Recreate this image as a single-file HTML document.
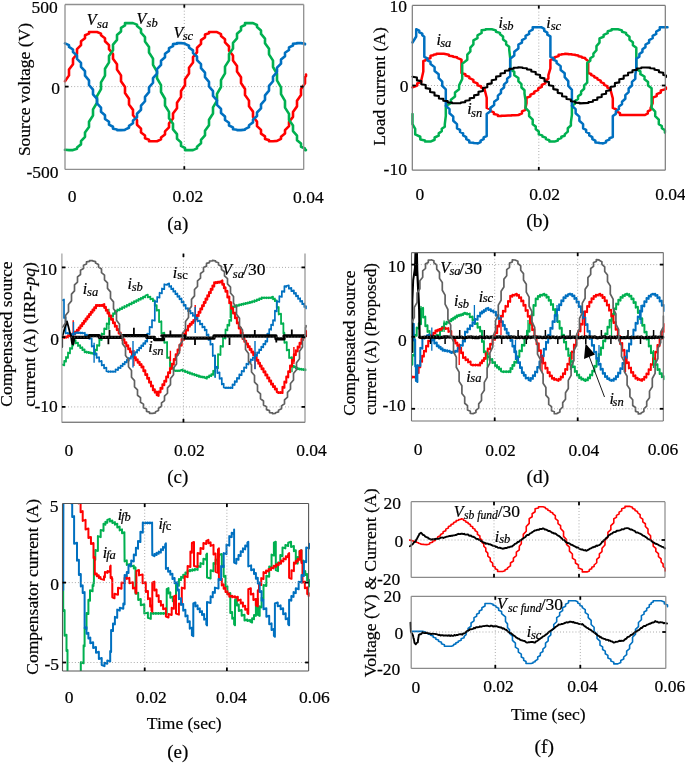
<!DOCTYPE html>
<html><head><meta charset="utf-8"><style>html,body{margin:0;padding:0;background:#fff;}svg{display:block;will-change:transform;}</style></head>
<body><svg width="685" height="763" viewBox="0 0 685 763" font-family="Liberation Serif, serif">
<rect width="685" height="763" fill="#fff"/>
<defs><clipPath id="clipC"><rect x="62" y="253.6" width="246" height="168.8"/></clipPath><clipPath id="clipD"><rect x="411.5" y="252.6" width="253" height="168.4"/></clipPath><clipPath id="clipE"><rect x="62.5" y="503.5" width="248" height="167.5"/></clipPath><clipPath id="clipF1"><rect x="409" y="501.7" width="259" height="75.7"/></clipPath><clipPath id="clipF2"><rect x="409" y="596.3" width="260" height="72.1"/></clipPath></defs>
<line x1="65" y1="86.6" x2="303.7" y2="86.6" stroke="#8c8c8c" stroke-width="0.8" stroke-dasharray="0.9 2.2"/>
<line x1="184.3" y1="4.5" x2="184.3" y2="169.4" stroke="#8c8c8c" stroke-width="0.8" stroke-dasharray="0.9 2.2"/>
<g>
<path d="M65 81.17L69 75.38L69 69.59L73 64.17L73 58.76L77 53.96L77 49.16L81 45.19L81 41.22L85 38.25L85 35.28L89 33.64L89 32L93 32L97 32L101 33.64L101 35.28L105 38.25L105 41.22L109 45.19L109 49.16L113 53.96L113 58.76L117 64.17L117 69.59L121 75.38L121 81.17L125 87.08L125 92.99L129 98.76L129 104.53L133 109.9L133 115.27L137 120.01L137 124.75L141 128.65L141 132.55L145 135.43L145 138.31L149 139.75L149 141.2L153 141.2L157 141.2L161 139.36L161 137.52L165 134.47L165 131.41L169 127.36L169 123.32L173 118.46L173 113.6L177 108.15L177 102.69L181 96.88L181 91.07L185 85.16L185 79.26L189 73.51L189 67.76L193 62.43L193 57.1L197 52.43L197 47.75L201 43.93L201 40.11L205 37.31L205 34.52L209 33.26L209 32L213 32L217 32.04L221 34.07L221 36.09L225 39.24L225 42.38L229 46.5L229 50.62L233 55.53L233 60.45L237 65.94L237 71.43L241 77.26L241 83.09L245 88.99L245 94.9L249 100.62L249 106.34L253 111.63L253 116.91L257 121.53L257 126.14L261 129.89L261 133.63L265 136.33L265 139.04L269 140.12L269 141.2L273 141.2L277 140.92L281 138.8L281 136.68L285 133.45L285 130.22L289 126.03L289 121.84L293 116.87L293 111.9L297 106.37L297 100.84L301 95L301 89.15L305 83.25L305 77.35L306 75.9L306 74.45" fill="none" stroke="#ff0000" stroke-width="2.6" stroke-linejoin="round" stroke-linecap="round"/>
<path d="M65 149.82L69 150.1L73 150.1L77 148.81L77 147.52L81 144.36L81 141.2L85 136.83L85 132.47L89 127.09L89 121.71L93 115.55L93 109.4L97 102.74L97 96.08L101 89.21L101 82.34L105 75.57L105 68.79L109 62.41L109 56.03L113 50.33L113 44.62L117 39.84L117 35.06L121 31.42L121 27.78L125 25.44L125 23.1L129 23.1L133 23.1L137 24.6L137 26.1L141 29.36L141 32.62L145 37.08L145 41.54L149 46.99L149 52.44L153 58.65L153 64.86L157 71.54L157 78.23L161 85.1L161 91.97L165 98.73L165 105.48L169 111.82L169 118.15L173 123.79L173 129.43L177 134.12L177 138.82L181 142.36L181 145.9L185 148L185 150.1L189 150.1L193 150.1L197 148.39L197 146.67L201 143.3L201 139.94L205 135.39L205 130.84L209 125.32L209 119.8L213 113.54L213 107.29L217 100.57L217 93.86L221 86.99L221 80.11L225 73.38L225 66.65L229 60.36L229 54.07L233 48.5L233 42.93L237 38.32L237 33.72L241 30.28L241 26.84L245 24.97L245 23.1L249 23.1L253 23.1L257 25.04L257 26.98L261 30.45L261 33.92L265 38.55L265 43.19L269 48.78L269 54.37L273 60.67L273 66.98L277 73.72L277 80.45L281 87.33L281 94.2L285 100.91L285 107.61L289 113.85L289 120.09L293 125.6L293 131.1L297 135.62L297 140.13L301 143.47L301 146.81L305 148.45L305 150.1L306 150.1" fill="none" stroke="#00b050" stroke-width="2.6" stroke-linejoin="round" stroke-linecap="round"/>
<path d="M65 43.43L69 45.16L69 46.89L73 49.5L73 52.11L77 55.48L77 58.85L81 62.83L81 66.82L85 71.24L85 75.66L89 80.32L89 84.98L93 89.68L93 94.37L97 98.9L97 103.43L101 107.58L101 111.73L105 115.33L105 118.93L109 121.82L109 124.7L113 126.74L113 128.79L117 129.44L117 130.1L121 130.1L125 129.83L125 129.56L129 127.75L129 125.95L133 123.27L133 120.6L137 117.17L137 113.74L141 109.72L141 105.69L145 101.25L145 96.8L149 92.13L149 87.45L153 82.76L153 78.07L157 73.57L157 69.07L161 64.95L161 60.84L165 57.29L165 53.74L169 50.92L169 48.1L173 46.13L173 44.16L177 43.63L177 43.1L181 43.1L185 43.48L185 43.87L189 45.75L189 47.63L193 50.37L193 53.11L197 56.59L197 60.07L201 64.14L201 68.2L205 72.68L205 77.15L209 81.83L209 86.51L213 91.2L213 95.88L217 100.36L217 104.84L221 108.91L221 112.99L225 116.48L225 119.97L229 122.73L229 125.49L233 127.38L233 129.28L237 129.69L237 130.1L241 130.1L245 129.6L245 129.1L249 127.14L249 125.19L253 122.38L253 119.58L257 116.04L257 112.51L261 108.4L261 104.3L265 99.8L265 95.3L269 90.61L269 85.92L273 81.25L273 76.57L277 72.12L277 67.67L281 63.63L281 59.6L285 56.16L285 52.72L289 50.03L289 47.34L293 45.52L293 43.69L297 43.4L297 43.1L301 43.1L305 43.73L305 44.35" fill="none" stroke="#0070c0" stroke-width="2.6" stroke-linejoin="round" stroke-linecap="round"/>
</g>
<line x1="65" y1="4.5" x2="303.7" y2="4.5" stroke="#8f8f8f" stroke-width="1.3"/>
<line x1="65" y1="169.4" x2="303.7" y2="169.4" stroke="#8f8f8f" stroke-width="1.3"/>
<line x1="65" y1="4.5" x2="65" y2="169.4" stroke="#8f8f8f" stroke-width="1.3"/>
<line x1="303.7" y1="4.5" x2="303.7" y2="169.4" stroke="#8f8f8f" stroke-width="1.3"/>
<line x1="184.3" y1="4.5" x2="184.3" y2="7.7" stroke="#000000" stroke-width="1.8"/>
<line x1="184.3" y1="166.2" x2="184.3" y2="169.4" stroke="#000000" stroke-width="1.8"/>
<line x1="65" y1="86.6" x2="68.5" y2="86.6" stroke="#000000" stroke-width="1.8"/>
<line x1="300.2" y1="86.6" x2="303.7" y2="86.6" stroke="#000000" stroke-width="1.8"/>
<line x1="412.3" y1="85.5" x2="665.3" y2="85.5" stroke="#8c8c8c" stroke-width="0.8" stroke-dasharray="0.9 2.2"/>
<line x1="538.8" y1="5.4" x2="538.8" y2="170.2" stroke="#8c8c8c" stroke-width="0.8" stroke-dasharray="0.9 2.2"/>
<path d="M412.5 87.4L417.2 85.6L417.2 83.4L421.3 82L421.3 80.3L423.3 71.57L423.3 60.9L425.4 60.45L425.4 59.9L430.5 58.05L430.5 55.8L433.55 55.33L433.55 54.75L436.6 54.28L436.6 53.7L443.8 53.7L448.9 54.65L448.9 55.8L452.95 56.25L452.95 56.8L457 57.25L457 57.8L461.5 59.64L461.5 61.9L461.5 73.1L465.4 74.25L465.4 75.65L469.3 76.8L469.3 78.2L473.4 79.82L473.4 81.8L477.5 83.42L477.5 85.4L481.05 86.32L481.05 87.45L484.6 88.37L484.6 89.5L486.7 97.78L486.7 107.9L490.25 109.27L490.25 110.95L493.8 112.32L493.8 114L497.9 114.9L497.9 116L501.32 115.92L501.32 115.83L504.73 115.76L504.73 115.67L508.15 115.59L508.15 115.5L511.57 115.42L511.57 115.33L514.98 115.26L514.98 115.17L518.4 115.09L518.4 115L521.95 113.4L521.95 111.45L525.5 109.85L525.5 107.9L526.5 103.31L526.5 97.7L530.4 96.32L530.4 94.63L534.3 93.25L534.3 91.57L538.2 90.19L538.2 88.5L541.75 86.88L541.75 84.9L545.3 83.28L545.3 81.3L548.4 78.56L548.4 75.2L550.4 68.31L550.4 59.9L554.5 58.73L554.5 57.3L558.6 56.13L558.6 54.7L561.8 54.48L561.8 54.2L565 53.98L565 53.7L568.33 53.9L568.33 54.13L571.67 54.33L571.67 54.57L575 54.76L575 55L578.4 55.57L578.4 56.27L581.8 56.84L581.8 57.53L585.2 58.1L585.2 58.8L588.2 61.09L588.2 63.9L588.2 73.1L591.27 74.03L591.27 75.17L594.33 76.1L594.33 77.23L597.4 78.16L597.4 79.3L600.73 80.56L600.73 82.1L604.05 83.36L604.05 84.9L607.38 86.16L607.38 87.7L610.7 88.96L610.7 90.5L612.8 98.33L612.8 107.9L616.4 109.5L616.4 111.45L620 113.05L620 115L645 115L647.8 113.4L647.8 111.45L650.6 109.85L650.6 107.9L652.6 103.31L652.6 97.7L656.7 96.08L656.7 94.1L660.8 92.48L660.8 90.5L665.9 89.11L665.9 87.4" fill="none" stroke="#ff0000" stroke-width="2.5" stroke-linejoin="round" stroke-linecap="round"/>
<path d="M412.5 114L412.5 124.2L415.2 128.79L415.2 134.4L420.3 136.74L420.3 139.6L425 140.5L425 141.6L430.5 141.6L434.6 139.75L434.6 137.5L438.7 135.66L438.7 133.4L441.75 131.33L441.75 128.8L444.8 126.73L444.8 124.2L445.8 115.92L445.8 105.8L450.9 103.06L450.9 99.7L455 96.48L455 92.55L459.1 89.33L459.1 85.4L462.2 78.97L462.2 71.1L462.2 63.9L467.3 59.76L467.3 54.7L470.35 51.48L470.35 47.55L473.4 44.33L473.4 40.4L477.5 38.1L477.5 35.3L481.6 33L481.6 30.2L485.7 29.75L485.7 29.2L491.8 29.2L495.9 30.35L495.9 31.75L500 32.9L500 34.3L503.07 36.59L503.07 39.4L506.13 41.7L506.13 44.5L509.2 46.8L509.2 49.6L510.2 58.38L510.2 69.1L514.3 71.84L514.3 75.2L518.4 77.94L518.4 81.3L521.45 84.07L521.45 87.45L524.5 90.22L524.5 93.6L525.5 100.03L525.5 107.9L529.1 111.57L529.1 116.05L532.7 119.72L532.7 124.2L535.75 126.5L535.75 129.3L538.8 131.59L538.8 134.4L542.3 135.34L542.3 136.5L545.85 137.65L545.85 139.05L549.4 140.2L549.4 141.6L554.5 141.6L557.9 140.52L557.9 139.2L561.3 138.12L561.3 136.8L564.7 135.72L564.7 134.4L567.8 131.66L567.8 128.3L570.9 125.56L570.9 122.2L571.9 114.82L571.9 105.8L574.97 103.66L574.97 101.03L578.03 98.89L578.03 96.27L581.1 94.12L581.1 91.5L584.15 88.75L584.15 85.4L587.2 82.66L587.2 79.3L587.2 62.9L590.3 60.83L590.3 58.3L593.4 56.23L593.4 53.7L596.45 50.26L596.45 46.05L599.5 42.61L599.5 38.4L603.6 36.78L603.6 34.8L607.7 33.18L607.7 31.2L611.7 30.3L611.7 29.2L617.9 29.2L622 30.35L622 31.75L626.1 32.9L626.1 34.3L629.5 36.76L629.5 39.77L632.9 42.23L632.9 45.23L636.3 47.69L636.3 50.7L636.3 69.1L640.4 71.39L640.4 74.2L644.5 76.49L644.5 79.3L648.05 82.05L648.05 85.4L651.6 88.15L651.6 91.5L651.6 107.9L655.2 111.57L655.2 116.05L658.8 119.72L658.8 124.2L661.85 126.05L661.85 128.3L664.9 130.15L664.9 132.4" fill="none" stroke="#00b050" stroke-width="2.5" stroke-linejoin="round" stroke-linecap="round"/>
<path d="M412.5 42.5L416.2 36.52L416.2 29.2L419.25 30.57L419.25 32.25L422.3 33.62L422.3 35.3L424.3 36.7L424.3 38.4L424.3 56.8L427.4 58.4L427.4 60.35L430.5 61.95L430.5 63.9L434.6 67.12L434.6 71.05L438.7 74.27L438.7 78.2L442.25 81.67L442.25 85.9L445.8 89.36L445.8 93.6L445.8 105.8L449.53 109.17L449.53 113.3L453.27 116.67L453.27 120.8L457 124.18L457 128.3L460.07 129.91L460.07 131.88L463.15 133.48L463.15 135.45L466.23 137.06L466.23 139.03L469.3 140.63L469.3 142.6L473.4 142.82L473.4 143.1L477.5 143.32L477.5 143.6L480.57 142.22L480.57 140.53L483.63 139.15L483.63 137.47L486.7 136.09L486.7 134.4L486.7 114L490.43 111.24L490.43 107.87L494.17 105.11L494.17 101.73L497.9 98.97L497.9 95.6L500.97 93.07L500.97 89.97L504.05 87.44L504.05 84.35L507.12 81.82L507.12 78.72L510.2 76.19L510.2 73.1L510.2 58.8L514.3 55.58L514.3 51.65L518.4 48.43L518.4 44.5L521.98 42.55L521.98 40.17L525.55 38.23L525.55 35.85L529.12 33.9L529.12 31.52L532.7 29.58L532.7 27.2L541.2 27.2L544.27 28.88L544.27 30.93L547.33 32.61L547.33 34.67L550.4 36.35L550.4 38.4L550.4 56.8L553.5 58.17L553.5 59.85L556.6 61.22L556.6 62.9L560.65 66.12L560.65 70.05L564.7 73.27L564.7 77.2L568.3 81.12L568.3 85.9L571.9 89.81L571.9 94.6L571.9 105.8L575.63 109.17L575.63 113.3L579.37 116.67L579.37 120.8L583.1 124.18L583.1 128.3L586.17 129.91L586.17 131.88L589.25 133.48L589.25 135.45L592.33 137.06L592.33 139.03L595.4 140.63L595.4 142.6L599 142.82L599 143.1L602.6 143.32L602.6 143.6L606 142.38L606 140.9L609.4 139.69L609.4 138.2L612.8 136.98L612.8 135.5L612.8 116L615.87 113.86L615.87 111.23L618.93 109.09L618.93 106.47L622 104.32L622 101.7L625.33 98.72L625.33 95.08L628.65 92.09L628.65 88.45L631.97 85.47L631.97 81.83L635.3 78.84L635.3 75.2L636.3 67.82L636.3 58.8L639.37 56.66L639.37 54.03L642.43 51.89L642.43 49.27L645.5 47.12L645.5 44.5L649.08 42.55L649.08 40.17L652.65 38.23L652.65 35.85L656.22 33.9L656.22 31.52L659.8 29.58L659.8 27.2L667.5 27.2" fill="none" stroke="#0070c0" stroke-width="2.5" stroke-linejoin="round" stroke-linecap="round"/>
<path d="M412.5 76.72L416.9 77.45L416.9 80.35L421.3 81.12L421.3 84.22L425.7 85L425.7 88.14L430.1 88.9L430.1 91.93L434.5 92.63L434.5 95.41L438.9 96.01L438.9 98.42L443.3 98.89L443.3 100.8L447.7 101.13L447.7 102.46L452.1 102.62L452.1 103.3L456.5 103.29L460.9 103.12L460.9 102.43L465.3 102.09L465.3 100.76L469.7 100.28L469.7 98.36L474.1 97.75L474.1 95.34L478.5 94.64L478.5 91.85L482.9 91.09L482.9 88.05L487.3 87.27L487.3 84.13L491.7 83.35L491.7 80.26L496.1 79.54L496.1 76.65L500.5 76.01L500.5 73.44L504.9 72.92L504.9 70.81L509.3 70.42L509.3 68.87L513.7 68.64L513.7 67.72L518.1 67.66L518.1 67.41L522.5 67.52L522.5 67.95L526.9 68.23L526.9 69.33L531.3 69.75L531.3 71.47L535.7 72.03L535.7 74.27L540.1 74.93L540.1 77.6L544.5 78.34L544.5 81.3L548.9 82.08L548.9 85.2L553.3 85.98L553.3 89.11L557.7 89.85L557.7 92.84L562.1 93.51L562.1 96.21L566.5 96.79L566.5 99.08L570.9 99.52L570.9 101.29L575.3 101.58L575.3 102.74L579.7 102.87L579.7 103.38L584.1 103.15L588.5 102.94L588.5 102.08L592.9 101.71L592.9 100.22L597.3 99.71L597.3 97.65L601.7 97.02L601.7 94.5L606.1 93.79L606.1 90.92L610.5 90.15L610.5 87.07L614.9 86.29L614.9 83.15L619.3 82.38L619.3 79.33L623.7 78.62L623.7 75.8L628.1 75.19L628.1 72.73L632.5 72.23L632.5 70.26L636.9 69.91L636.9 68.51L641.3 68.32L641.3 67.56L645.7 67.46L650.1 67.62L650.1 68.22L654.5 68.53L654.5 69.79L658.9 70.26L658.9 72.11L663.3 72.7L663.3 75.06L666 75.47L666 77.12" fill="none" stroke="#000000" stroke-width="2.1" stroke-linejoin="round" stroke-linecap="round"/>
<line x1="412.3" y1="5.4" x2="665.3" y2="5.4" stroke="#7a7a7a" stroke-width="1.2"/>
<line x1="412.3" y1="170.2" x2="665.3" y2="170.2" stroke="#7a7a7a" stroke-width="1.2"/>
<line x1="412.3" y1="5.4" x2="412.3" y2="170.2" stroke="#7a7a7a" stroke-width="1.2"/>
<line x1="665.3" y1="5.4" x2="665.3" y2="170.2" stroke="#7a7a7a" stroke-width="1.2"/>
<line x1="538.8" y1="5.4" x2="538.8" y2="8.6" stroke="#000000" stroke-width="1.8"/>
<line x1="538.8" y1="167" x2="538.8" y2="170.2" stroke="#000000" stroke-width="1.8"/>
<line x1="412.3" y1="85.5" x2="415.8" y2="85.5" stroke="#000000" stroke-width="1.8"/>
<line x1="661.8" y1="85.5" x2="665.3" y2="85.5" stroke="#000000" stroke-width="1.8"/>
<g clip-path="url(#clipC)">
<path d="M62.5 364.6L64.25 365.4L64.25 360.8L66 361.6L66 357L68 357.8L68 352.5L70 353.3L70 348L72.2 348.8L72.2 344.7L73.2 345.5L73.2 340.9L75.6 340.1L75.6 343.45L78 342.65L78 346L80.2 345.2L80.2 348.1L82.4 347.3L82.4 350.2L84.6 349.4L84.6 352.3L86.72 351.5L86.72 352.73L88.85 351.93L88.85 353.15L90.97 352.35L90.97 353.57L93.1 352.77L93.1 354L95.05 354.8L95.05 349.5L97 350.3L97 345L99.35 345.8L99.35 339.25L101.7 340.05L101.7 333.5L104.2 334.3L104.2 328.43L106.7 329.23L106.7 323.37L109.2 324.17L109.2 318.3L111.13 319.1L111.13 315.77L113.07 316.57L113.07 313.23L115 314.03L115 310.7L117.35 311.5L117.35 309.52L119.7 310.32L119.7 308.35L122.05 309.15L122.05 307.18L124.4 307.98L124.4 306L126.8 306.8L126.8 304.8L129.2 305.6L129.2 303.6L131.6 304.4L131.6 302.4L134 303.2L134 301.2L136.26 302L136.26 300.06L138.52 300.86L138.52 298.92L140.78 299.72L140.78 297.78L143.04 298.58L143.04 296.64L145.3 297.44L145.3 295.5L147.83 294.7L147.83 297.4L150.37 296.6L150.37 299.3L152.9 298.5L152.9 301.2L154.8 300.4L154.8 305.95L156.7 305.15L156.7 310.7L159.05 309.9L159.05 322.1L161.4 321.3L161.4 333.5L164.3 332.7L164.3 342.8L167.1 342L167.1 358L170 357.2L170 366.5L171.9 365.7L171.9 368.4L173.8 367.6L173.8 370.3L175.87 371.1L175.87 370.3L177.93 371.1L177.93 370.3L180 371.1L180 370.3L182.53 369.5L182.53 371.23L185.07 370.43L185.07 372.17L187.6 371.37L187.6 373.1L189.88 372.3L189.88 373.88L192.16 373.08L192.16 374.66L194.44 373.86L194.44 375.44L196.72 374.64L196.72 376.22L199 375.42L199 377L200.9 376.2L200.9 377.3L202.8 376.5L202.8 377.6L204.7 376.8L204.7 377.9L206.9 378.7L206.9 376.63L209.1 377.43L209.1 375.37L211.3 376.17L211.3 374.1L213.2 374.9L213.2 370.75L215.1 371.55L215.1 367.4L218 368.2L218 354.2L220.5 355L220.5 345.97L223 346.77L223 337.73L225.5 338.53L225.5 329.5L227.4 330.3L227.4 324.75L229.3 325.55L229.3 320L231.2 320.8L231.2 306.9L233.1 307.7L233.1 306.27L235 307.07L235 305.63L236.9 306.43L236.9 305L239.07 305.8L239.07 304.46L241.24 305.26L241.24 303.91L243.41 304.71L243.41 303.37L245.59 304.17L245.59 302.83L247.76 303.63L247.76 302.29L249.93 303.09L249.93 301.74L252.1 302.54L252.1 301.2L254.47 302L254.47 300.25L256.85 301.05L256.85 299.3L259.23 300.1L259.23 298.35L261.6 299.15L261.6 297.4L263.98 298.2L263.98 297.4L266.35 298.2L266.35 297.4L268.73 298.2L268.73 297.4L271.1 298.2L271.1 297.4L273 296.6L273 299.3L274.9 298.5L274.9 301.2L276.8 300.4L276.8 307.85L278.7 307.05L278.7 314.5L281.05 313.7L281.05 324L283.4 323.2L283.4 333.5L284.4 332.7L284.4 342.8L286.75 342L286.75 350.4L289.1 349.6L289.1 358L292 357.2L292 366.5L293.9 365.7L293.9 367.43L295.8 366.63L295.8 368.37L297.7 367.57L297.7 369.3L299.65 368.5L299.65 369.55L301.6 368.75L301.6 369.8L303.55 369L303.55 370.05L305.5 369.25L305.5 370.3" fill="none" stroke="#00b050" stroke-width="1.8" stroke-linejoin="round" stroke-linecap="round"/>
<path d="M108.9 308.8V329.7M170.4 362V373M215.1 355V377M230.3 301V318M292 358V372.3" stroke="#00b050" stroke-width="1.4" fill="none"/>
<path d="M62.5 337L64.25 337.9L64.25 336.75L66 337.65L66 336.5L68.15 337.4L68.15 335.25L70.3 336.15L70.3 334L71.75 334.9L71.75 333.75L73.2 334.65L73.2 333.5L75.1 334.4L75.1 331.6L77 332.5L77 329.7L78.73 330.6L78.73 327.45L80.45 328.35L80.45 325.21L82.18 326.11L82.18 322.96L83.91 323.86L83.91 320.72L85.64 321.62L85.64 318.47L87.36 319.37L87.36 316.23L89.09 317.13L89.09 313.98L90.82 314.88L90.82 311.74L92.55 312.64L92.55 309.49L94.27 310.39L94.27 307.25L96 308.15L96 305L97.65 305.9L97.65 305L99.3 305.9L99.3 305L100.95 305.9L100.95 305L102.6 305.9L102.6 305L104.25 304.1L104.25 307.85L105.9 306.95L105.9 310.7L107.55 309.8L107.55 313.55L109.2 312.65L109.2 316.4L111.1 315.5L111.1 319.82L113 318.92L113 323.24L114.9 322.34L114.9 326.66L116.8 325.76L116.8 330.08L118.7 329.18L118.7 333.5L120.6 332.6L120.6 337.1L122.5 336.2L122.5 340.14L124.4 339.24L124.4 343.18L126.3 342.28L126.3 346.22L128.2 345.32L128.2 349.26L130.1 348.36L130.1 352.3L132 351.4L132 355.15L133.9 354.25L133.9 358L135.8 357.1L135.8 360.35L137.7 359.45L137.7 362.7L139.6 361.8L139.6 365.05L141.5 364.15L141.5 367.4L143.4 366.5L143.4 371.2L145.3 370.3L145.3 375L147.2 374.1L147.2 378.8L149.1 377.9L149.1 382.6L151 381.7L151 386.4L152.9 385.5L152.9 390.2L154.8 389.3L154.8 392.6L156.7 391.7L156.7 395L158.6 395.9L158.6 391.43L160.5 392.32L160.5 387.85L162.4 388.75L162.4 384.27L164.3 385.17L164.3 380.7L166.2 381.6L166.2 376.45L168.1 377.35L168.1 372.2L170 373.1L170 367.95L171.9 368.85L171.9 363.7L173.8 364.6L173.8 358.95L175.7 359.85L175.7 354.2L177.6 355.1L177.6 349.45L179.5 350.35L179.5 344.7L181.65 345.6L181.65 339.1L183.8 340L183.8 333.5L185.9 334.4L185.9 329.6L188 330.5L188 325.7L189.8 326.6L189.8 323.85L191.6 324.75L191.6 322L193.4 322.9L193.4 320.15L195.2 321.05L195.2 318.3L196.93 319.2L196.93 315.03L198.65 315.93L198.65 311.75L200.38 312.65L200.38 308.48L202.11 309.38L202.11 305.21L203.84 306.11L203.84 301.94L205.56 302.84L205.56 298.66L207.29 299.56L207.29 295.39L209.02 296.29L209.02 292.12L210.75 293.02L210.75 288.85L212.47 289.75L212.47 285.57L214.2 286.47L214.2 282.3L215.85 283.2L215.85 282.05L217.5 282.95L217.5 281.8L219.15 282.7L219.15 281.55L220.8 282.45L220.8 281.3L222.37 280.4L222.37 284.8L223.93 283.9L223.93 288.3L225.5 287.4L225.5 291.8L227.4 290.9L227.4 297.47L229.3 296.57L229.3 303.13L231.2 302.23L231.2 308.8L233.1 307.9L233.1 313.55L235 312.65L235 318.3L236.9 317.4L236.9 323.37L238.8 322.47L238.8 328.43L240.7 327.53L240.7 333.5L242.6 332.6L242.6 339L244.37 338.1L244.37 341.71L246.14 340.81L246.14 344.43L247.91 343.53L247.91 347.14L249.69 346.24L249.69 349.86L251.46 348.96L251.46 352.57L253.23 351.67L253.23 355.29L255 354.39L255 358L256.65 357.1L256.65 360.82L258.3 359.93L258.3 363.65L259.95 362.75L259.95 366.48L261.6 365.58L261.6 369.3L263.5 368.4L263.5 372.34L265.4 371.44L265.4 375.38L267.3 374.48L267.3 378.42L269.2 377.52L269.2 381.46L271.1 380.56L271.1 384.5L273 383.6L273 387.03L274.9 386.13L274.9 389.57L276.8 388.67L276.8 392.1L278.7 393L278.7 392.1L280.6 393L280.6 392.1L282.5 393L282.5 386.88L284.4 387.77L284.4 381.65L286.3 382.55L286.3 376.43L288.2 377.32L288.2 371.2L290.1 372.1L290.1 365.53L292 366.43L292 359.87L293.9 360.77L293.9 354.2L295.8 355.1L295.8 350.4L297.7 351.3L297.7 346.6L299.6 347.5L299.6 342.8L301.5 343.7L301.5 339L302.9 339.9L302.9 337.1L304.3 338L304.3 335.2L306 336.1L306 331" fill="none" stroke="#ff0000" stroke-width="2.1" stroke-linejoin="round" stroke-linecap="round"/>
<path d="M73.2 320.2V333.5M133.9 350V366M170.4 350.7V361.2M195.2 305V322M255 352V369M293.9 347V364" stroke="#ff0000" stroke-width="1.4" fill="none"/>
<path d="M62.5 300.3L64 299.5L64 318L65.6 317.2L65.6 333.5L67.8 332.7L67.8 333.75L70 332.95L70 334L72.5 334.8L72.5 333.5L75 334.3L75 333L76.92 332.2L76.92 333.12L78.85 332.32L78.85 333.25L80.78 332.45L80.78 333.38L82.7 332.57L82.7 333.5L84.9 332.7L84.9 335.33L87.1 334.53L87.1 337.17L89.3 336.37L89.3 339L91.7 338.2L91.7 346.6L94.1 345.8L94.1 354.2L96.63 353.4L96.63 357.97L99.17 357.17L99.17 361.73L101.7 360.93L101.7 365.5L104.05 364.7L104.05 368.35L106.4 367.55L106.4 371.2L108.6 372L108.6 371.2L110.8 372L110.8 371.2L113 372L113 371.2L115.53 372L115.53 369.3L118.07 370.1L118.07 367.4L120.6 368.2L120.6 365.5L122.67 366.3L122.67 363.62L124.73 364.42L124.73 361.73L126.8 362.53L126.8 359.85L128.87 360.65L128.87 357.97L130.93 358.77L130.93 356.08L133 356.88L133 354.2L135.05 355L135.05 351.98L137.1 352.78L137.1 349.77L139.15 350.57L139.15 347.55L141.2 348.35L141.2 345.33L143.25 346.13L143.25 343.12L145.3 343.92L145.3 340.9L147.2 341.7L147.2 333.5L149.6 334.3L149.6 326.75L152 327.55L152 320L154.8 320.8L154.8 301.2L157.18 302L157.18 296.95L159.55 297.75L159.55 292.7L161.93 293.5L161.93 288.45L164.3 289.25L164.3 284.2L167.1 285L167.1 284.2L169.17 283.4L169.17 286.72L171.23 285.92L171.23 289.23L173.3 288.43L173.3 291.75L175.37 290.95L175.37 294.27L177.43 293.47L177.43 296.78L179.5 295.98L179.5 299.3L181.57 298.5L181.57 302.47L183.63 301.67L183.63 305.63L185.7 304.83L185.7 308.8L188.07 308L188.07 311.18L190.45 310.38L190.45 313.55L192.82 312.75L192.82 315.93L195.2 315.12L195.2 318.3L197.57 317.5L197.57 321.35L199.95 320.55L199.95 324.4L202.32 323.6L202.32 327.45L204.7 326.65L204.7 330.5L206.6 329.7L206.6 335.23L208.5 334.43L208.5 339.97L210.4 339.17L210.4 344.7L212.75 343.9L212.75 356.05L215.1 355.25L215.1 367.4L217.33 366.6L217.33 373.1L219.57 372.3L219.57 378.8L221.8 378L221.8 384.5L223.7 383.7L223.7 387.4L225.9 388.2L225.9 387.4L228.1 388.2L228.1 387.4L230.3 388.2L230.3 387.4L232.5 388.2L232.5 384.23L234.7 385.03L234.7 381.07L236.9 381.87L236.9 377.9L239.28 378.7L239.28 374.35L241.65 375.15L241.65 370.8L244.03 371.6L244.03 367.25L246.4 368.05L246.4 363.7L248.55 364.5L248.55 361.55L250.7 362.35L250.7 359.4L252.85 360.2L252.85 357.25L255 358.05L255 355.1L257.08 355.9L257.08 352.26L259.16 353.06L259.16 349.42L261.24 350.22L261.24 346.58L263.32 347.38L263.32 343.74L265.4 344.54L265.4 340.9L267.3 341.7L267.3 333.5L269.2 334.3L269.2 329L271.1 329.8L271.1 324.5L273 325.3L273 320L274.9 320.8L274.9 310.6L276.8 311.4L276.8 301.2L279.33 302L279.33 296.17L281.87 296.97L281.87 291.13L284.4 291.93L284.4 286.1L286.3 286.9L286.3 286.1L288.83 285.3L288.83 288.63L291.37 287.83L291.37 291.17L293.9 290.37L293.9 293.7L295.98 292.9L295.98 296.34L298.06 295.54L298.06 298.98L300.14 298.18L300.14 301.62L302.22 300.82L302.22 304.26L304.3 303.46L304.3 306.9L306 306.1L306 308.5" fill="none" stroke="#0070c0" stroke-width="1.7" stroke-linejoin="round" stroke-linecap="round"/>
<path d="M73.5 322V340M94.1 342.8V362.7M133 340.9V367.4M195.2 307V333M215.1 357V378M255 340.9V369.3" stroke="#0070c0" stroke-width="1.4" fill="none"/>
<path d="M62.2 347L62.2 337L64.5 329L67 321.4L68.5 327L70 333.2L71.9 337.3" fill="none" stroke="#000000" stroke-width="1.8" stroke-linejoin="round" stroke-linecap="round"/>
<path d="M71.9 337.3L72.8 343.5L73.7 337.3L89.2 337.3L89.2 335.6L99.2 335.6L99.2 337.3L122 337.3L122 335.6L146.7 335.6L146.7 337.3L154.6 337.3L154.6 339.6L163.4 339.6L163.4 337.3L162 335.8L185 335.8L185 338.2L214 338.2L214 335.8L242 335.8L242 336L276 336L276 338.8L284 338.8L284 336L305 336" fill="none" stroke="#000000" stroke-width="3.3" stroke-linejoin="round" stroke-linecap="round" stroke-linejoin="miter" stroke-linecap="butt"/>
<path d="M109.5 337V330M133.9 336V327.8M170.4 336V330.5M254.8 336V330M291.8 336V329.5M108.4 337V344.2M195 338V344.9M229.5 337V344.9M276.3 338V342.5" stroke="#000000" stroke-width="1.8" fill="none"/>
<path d="M62.5 327.18L65.5 323.11L65.5 315.56L68.5 311.68L68.5 304.46L71.5 300.85L71.5 294.14L74.5 290.89L74.5 284.85L77.5 282.03L77.5 276.81L80.5 274.5L80.5 270.21L83.5 268.47L83.5 265.22L86.5 264.08L86.5 261.95L89.5 261.44L89.5 260.48L92.5 260.61L92.5 260.85L95.5 261.62L95.5 263.05L98.5 264.44L98.5 267.02L101.5 268.99L101.5 272.67L104.5 275.19L104.5 279.86L107.5 282.86L107.5 288.43L110.5 291.83L110.5 298.16L113.5 301.89L113.5 308.82L116.5 312.79L116.5 320.16L119.5 324.27L119.5 331.91L122.5 336.06L122.5 343.77L125.5 347.87L125.5 355.48L128.5 359.42L128.5 366.74L131.5 370.43L131.5 377.28L134.5 380.64L134.5 386.86L137.5 389.8L137.5 395.25L140.5 397.69L140.5 402.23L143.5 404.13L143.5 407.65L146.5 408.95L146.5 411.37L149.5 412.05L149.5 413.31L152.5 413.42L155.5 412.82L155.5 411.69L158.5 410.46L158.5 408.17L161.5 406.34L161.5 402.95L164.5 400.56L164.5 396.14L167.5 393.26L167.5 387.91L170.5 384.6L170.5 378.45L173.5 374.8L173.5 368.01L176.5 364.09L176.5 356.82L179.5 352.73L179.5 345.15L182.5 341L182.5 333.29L185.5 329.17L185.5 321.52L188.5 317.53L188.5 310.12L191.5 306.35L191.5 299.36L194.5 295.91L194.5 289.51L197.5 286.46L197.5 280.79L200.5 278.22L200.5 273.43L203.5 271.39L203.5 267.59L206.5 266.13L206.5 263.42L209.5 262.58L209.5 261.01L212.5 260.81L212.5 260.43L215.5 260.87L215.5 261.69L218.5 262.76L218.5 264.75L221.5 266.43L221.5 269.55L224.5 271.79L224.5 275.96L227.5 278.72L227.5 283.84L230.5 287.05L230.5 293L233.5 296.57L233.5 303.21L236.5 307.07L236.5 314.23L239.5 318.28L239.5 325.8L242.5 329.95L242.5 337.64L245.5 341.78L245.5 349.47L248.5 353.5L248.5 360.99L251.5 364.82L251.5 371.94L254.5 375.48L254.5 382.05L257.5 385.21L257.5 391.08L260.5 393.78L260.5 398.81L263.5 400.99L263.5 405.05L266.5 406.67L266.5 409.67L269.5 410.67L269.5 412.54L272.5 412.91L272.5 413.59L275.5 413.32L275.5 412.81L278.5 411.9L278.5 410.21L281.5 408.69L281.5 405.85L284.5 403.75L284.5 399.84L287.5 397.21L287.5 392.32L290.5 389.23L290.5 383.48L293.5 379.99L293.5 373.51L296.5 369.72L296.5 362.68L299.5 358.67L299.5 351.22L302.5 347.09L302.5 339.42L305.5 335.28L305.5 327.57L306 326.88L306 325.61" fill="none" stroke="#606060" stroke-width="1.7" stroke-linejoin="round" stroke-linecap="round"/>
</g>
<line x1="61.9" y1="267.4" x2="305" y2="267.4" stroke="#8c8c8c" stroke-width="0.8" stroke-dasharray="0.9 2.2"/>
<line x1="61.9" y1="337.15" x2="305" y2="337.15" stroke="#8c8c8c" stroke-width="0.8" stroke-dasharray="0.9 2.2"/>
<line x1="61.9" y1="406.9" x2="305" y2="406.9" stroke="#8c8c8c" stroke-width="0.8" stroke-dasharray="0.9 2.2"/>
<line x1="183.45" y1="253.6" x2="183.45" y2="422.4" stroke="#8c8c8c" stroke-width="0.8" stroke-dasharray="0.9 2.2"/>
<line x1="61.9" y1="422.4" x2="305" y2="422.4" stroke="#909090" stroke-width="1.2"/>
<line x1="61.9" y1="253.6" x2="61.9" y2="422.4" stroke="#a0a0a0" stroke-width="1.2"/>
<line x1="305" y1="253.6" x2="305" y2="422.4" stroke="#909090" stroke-width="1.2"/>
<line x1="61.9" y1="422.4" x2="305" y2="422.4" stroke="#808080" stroke-width="1.2"/>
<line x1="61.9" y1="267.4" x2="65.4" y2="267.4" stroke="#000000" stroke-width="1.8"/>
<line x1="301.5" y1="267.4" x2="305" y2="267.4" stroke="#000000" stroke-width="1.8"/>
<line x1="61.9" y1="337.15" x2="65.4" y2="337.15" stroke="#000000" stroke-width="1.8"/>
<line x1="301.5" y1="337.15" x2="305" y2="337.15" stroke="#000000" stroke-width="1.8"/>
<line x1="61.9" y1="406.9" x2="65.4" y2="406.9" stroke="#000000" stroke-width="1.8"/>
<line x1="301.5" y1="406.9" x2="305" y2="406.9" stroke="#000000" stroke-width="1.8"/>
<line x1="183.45" y1="253.6" x2="183.45" y2="257.1" stroke="#000000" stroke-width="1.8"/>
<line x1="183.45" y1="418.9" x2="183.45" y2="422.4" stroke="#000000" stroke-width="1.8"/>
<g clip-path="url(#clipD)">
<path d="M410.2 363.7L412.3 364.6L412.3 355L414.5 355.9L414.5 334.8L416.7 335.7L416.7 327.6L418.8 328.5L418.8 323.3L421 324.2L421 308.8L423.1 307.9L423.1 317.5L425.3 316.6L425.3 326.2L427.5 325.3L427.5 331.9L429.6 331L429.6 337.7L431.3 338.6L431.3 337.35L433 338.25L433 337L434.9 337.9L434.9 335.9L436.8 336.8L436.8 334.8L440 335.7L440 330L442.05 330.9L442.05 326.65L444.1 327.55L444.1 323.3L446.5 324.2L446.5 321.83L448.9 322.73L448.9 320.37L451.3 321.27L451.3 318.9L453.2 319.8L453.2 317.7L455.1 318.6L455.1 316.5L457 317.4L457 315.3L459 316.2L459 314.73L461 315.63L461 314.17L463 315.07L463 313.6L465 312.7L465 314.05L467 313.15L467 314.5L469.75 313.6L469.75 317.35L472.5 316.45L472.5 320.2L475.03 319.3L475.03 324L477.57 323.1L477.57 327.8L480.1 326.9L480.1 331.6L482 330.7L482 341.95L483.9 341.05L483.9 352.3L485.8 351.4L485.8 354.83L487.7 353.93L487.7 357.37L489.6 356.47L489.6 359.9L492.3 359L492.3 362.95L495 362.05L495 366L497 365.1L497 367.73L499 366.83L499 369.47L501 368.57L501 371.2L503.53 372.1L503.53 371.2L506.07 372.1L506.07 371.2L508.6 372.1L508.6 371.2L510.5 372.1L510.5 368.07L512.4 368.97L512.4 364.93L514.3 365.83L514.3 361.8L516.83 362.7L516.83 356.1L519.37 357L519.37 350.4L521.9 351.3L521.9 344.7L524.43 345.6L524.43 337.73L526.97 338.63L526.97 330.77L529.5 331.67L529.5 323.8L531.5 324.7L531.5 314.4L533.5 315.3L533.5 305L535.67 305.9L535.67 298.4L537.85 299.3L537.85 296.01L540.02 296.91L540.02 294.73L542.2 295.63L542.2 294.58L544.38 293.68L544.38 295.57L546.55 294.67L546.55 297.67L548.73 296.77L548.73 300.82L550.9 299.92L550.9 304.95L553.08 304.05L553.08 309.95L555.25 309.05L555.25 315.67L557.42 314.77L557.42 321.97L559.6 321.07L559.6 328.67L561.77 327.77L561.77 335.61L563.95 334.71L563.95 342.59L566.12 341.69L566.12 349.44L568.3 348.54L568.3 355.95L570.48 355.05L570.48 361.97L572.65 361.07L572.65 367.34L574.83 366.44L574.83 371.9L577 371L577 375.54L579.17 374.64L579.17 378.16L581.35 377.26L581.35 379.69L583.52 378.79L583.52 380.09L585.7 380.99L585.7 379.35L587.88 380.25L587.88 377.49L590.05 378.39L590.05 374.55L592.23 375.45L592.23 370.63L594.4 371.53L594.4 365.81L596.58 366.71L596.58 360.24L598.75 361.14L598.75 354.05L600.92 354.95L600.92 347.42L603.1 348.32L603.1 340.51L605.27 341.41L605.27 333.53L607.45 334.43L607.45 326.64L609.62 327.54L609.62 320.03L611.8 320.93L611.8 313.89L613.98 314.79L613.98 308.37L616.15 309.27L616.15 303.62L618.33 304.52L618.33 299.77L620.5 300.67L620.5 296.92L622.67 297.82L622.67 295.15L624.85 296.05L624.85 294.5L627.02 293.6L627.02 294.99L629.2 294.09L629.2 296.61L631.38 295.71L631.38 299.32L633.55 298.42L633.55 303.04L635.73 302.14L635.73 307.67L637.9 306.77L637.9 313.09L640.08 312.19L640.08 319.16L642.25 318.26L642.25 325.71L644.42 324.81L644.42 332.57L646.6 331.67L646.6 339.55L648.77 338.65L648.77 346.48L650.95 345.58L650.95 353.16L653.12 352.26L653.12 359.42L655.3 358.52L655.3 365.08L657.48 364.18L657.48 370.01L659.65 369.11L659.65 374.07L661.83 373.17L661.83 377.14L664 376.24L664 379.16" fill="none" stroke="#00b050" stroke-width="2.0" stroke-linejoin="round" stroke-linecap="round"/>
<path d="M410.6 349L410.6 376.6L412.9 377.5L412.9 376.6L415.2 377.5L415.2 376.6L417 377.5L417 372L418.65 372.9L418.65 366.4L420.3 367.3L420.3 360.8L422.1 361.7L422.1 355.75L423.9 356.65L423.9 350.7L426.05 351.6L426.05 345.65L428.2 346.55L428.2 340.6L431.1 341.5L431.1 334.8L433.25 335.7L433.25 332.65L435.4 333.55L435.4 330.5L437.33 331.4L437.33 329.77L439.27 330.67L439.27 329.03L441.2 329.93L441.2 328.3L443.35 327.4L443.35 328.65L445.5 327.75L445.5 329L448.4 328.1L448.4 331.9L451.3 331L451.3 337.7L453.5 336.8L453.5 340.9L455.4 340L455.4 343.43L457.3 342.53L457.3 345.97L459.2 345.07L459.2 348.5L461.1 347.6L461.1 353.25L463 352.35L463 358L465.53 357.1L465.53 360.2L468.07 359.3L468.07 362.4L470.6 361.5L470.6 364.6L473.13 365.5L473.13 364.6L475.67 365.5L475.67 364.6L478.2 365.5L478.2 364.6L480.1 365.5L480.1 362.4L482 363.3L482 360.2L483.9 361.1L483.9 358L485.8 358.9L485.8 353.25L487.7 354.15L487.7 348.5L490.1 349.4L490.1 343.75L492.5 344.65L492.5 339L494.85 339.9L494.85 332.35L497.2 333.25L497.2 325.7L499.1 326.6L499.1 320.7L501 321.6L501 315.7L502.9 316.6L502.9 310.7L505.45 311.6L505.45 305.85L508 306.75L508 301L510.2 301.9L510.2 295.81L512.39 296.71L512.39 294.65L514.59 295.55L514.59 294.64L516.79 293.74L516.79 295.8L518.99 294.9L518.99 298.09L521.18 297.19L521.18 301.44L523.38 300.54L523.38 305.77L525.58 304.87L525.58 310.95L527.77 310.05L527.77 316.86L529.97 315.96L529.97 323.32L532.17 322.42L532.17 330.16L534.37 329.26L534.37 337.19L536.56 336.29L536.56 344.23L538.76 343.33L538.76 351.08L540.96 350.18L540.96 357.55L543.15 356.65L543.15 363.47L545.35 362.57L545.35 368.68L547.55 367.78L547.55 373.04L549.75 372.14L549.75 376.43L551.94 375.53L551.94 378.75L554.14 377.85L554.14 379.94L556.34 379.04L556.34 379.97L558.54 380.87L558.54 378.84L560.73 379.74L560.73 376.58L562.93 377.48L562.93 373.25L565.13 374.15L565.13 368.95L567.32 369.85L567.32 363.78L569.52 364.68L569.52 357.89L571.72 358.79L571.72 351.45L573.92 352.35L573.92 344.61L576.11 345.51L576.11 337.58L578.31 338.48L578.31 330.54L580.51 331.44L580.51 323.69L582.7 324.59L582.7 317.2L584.9 318.1L584.9 311.26L587.1 312.16L587.1 306.03L589.3 306.93L589.3 301.65L591.49 302.55L591.49 298.24L593.69 299.14L593.69 295.9L595.89 296.8L595.89 294.68L598.08 295.58L598.08 294.62L600.28 293.72L600.28 295.72L602.48 294.82L602.48 297.95L604.68 297.05L604.68 301.25L606.87 300.35L606.87 305.54L609.07 304.64L609.07 310.68L611.27 309.78L611.27 316.56L613.46 315.66L613.46 322.99L615.66 322.09L615.66 329.82L617.86 328.92L617.86 336.85L620.06 335.95L620.06 343.89L622.25 342.99L622.25 350.75L624.45 349.85L624.45 357.25L626.65 356.35L626.65 363.2L628.85 362.3L628.85 368.45L631.04 367.55L631.04 372.85L633.24 371.95L633.24 376.28L635.44 375.38L635.44 378.66L637.63 377.76L637.63 379.91L639.83 379.01L639.83 380L642.03 380.9L642.03 378.92L644.23 379.82L644.23 376.72L646.42 377.62L646.42 373.44L648.62 374.34L648.62 369.18L650.82 370.08L650.82 364.05L653.01 364.95L653.01 358.19L655.21 359.09L655.21 351.77L657.41 352.67L657.41 344.95L659.61 345.85L659.61 337.93L661.8 338.83L661.8 330.88L664 331.78L664 324.01" fill="none" stroke="#ff0000" stroke-width="2.0" stroke-linejoin="round" stroke-linecap="round"/>
<path d="M412.3 324.7L413.8 323.8L413.8 340.6L415.2 339.7L415.2 366.5L415.9 365.6L415.9 381L417.4 381.9L417.4 365.1L420.3 366L420.3 347.8L422.4 348.7L422.4 337.7L424.6 338.6L424.6 336.6L426.8 337.5L426.8 335.5L429.3 334.6L429.3 338.05L431.8 337.15L431.8 340.6L434.3 339.7L434.3 343.45L436.8 342.55L436.8 346.3L438.73 345.4L438.73 347.77L440.67 346.87L440.67 349.23L442.6 348.33L442.6 350.7L445 349.8L445 351.17L447.4 350.27L447.4 351.63L449.8 350.73L449.8 352.1L451.73 353L451.73 351.63L453.67 352.53L453.67 351.17L455.6 352.07L455.6 350.7L457.75 351.6L457.75 347.8L459.9 348.7L459.9 344.9L462.8 345.8L462.8 340.6L465 341.5L465 331.6L467.5 332.5L467.5 328.43L470 329.33L470 325.27L472.5 326.17L472.5 322.1L475.03 323L475.03 318.93L477.57 319.83L477.57 315.77L480.1 316.67L480.1 312.6L482 313.5L482 311.33L483.9 312.23L483.9 310.07L485.8 310.97L485.8 308.8L488.33 307.9L488.33 310.07L490.87 309.17L490.87 311.33L493.4 310.43L493.4 312.6L495.93 311.7L495.93 315.77L498.47 314.87L498.47 318.93L501 318.03L501 322.1L502.9 321.2L502.9 325.9L504.8 325L504.8 329.7L506.7 328.8L506.7 333.5L508.6 332.6L508.6 337.2L510.5 336.3L510.5 340.9L512.4 340L512.4 346.6L514.3 345.7L514.3 352.3L516.2 351.4L516.2 358L518.1 357.1L518.1 363.03L520 362.13L520 368.07L521.9 367.17L521.9 373.1L523.8 372.2L523.8 375.8L525.7 374.9L525.7 378.5L528.5 377.6L528.5 380L530.69 380.9L530.69 378L532.87 378.9L532.87 375.29L535.06 376.19L535.06 371.55L537.24 372.45L537.24 366.89L539.43 367.79L539.43 361.44L541.61 362.34L541.61 355.33L543.8 356.23L543.8 348.74L545.98 349.64L545.98 341.85L548.17 342.75L548.17 334.83L550.35 335.73L550.35 327.87L552.54 328.77L552.54 321.17L554.73 322.07L554.73 314.91L556.91 315.81L556.91 309.24L559.1 310.14L559.1 304.34L561.28 305.24L561.28 300.32L563.47 301.22L563.47 297.29L565.65 298.19L565.65 295.34L567.84 296.24L567.84 294.53L570.02 293.63L570.02 294.86L572.21 293.96L572.21 296.33L574.4 295.43L574.4 298.91L576.58 298.01L576.58 302.52L578.77 301.62L578.77 307.07L580.95 306.17L580.95 312.43L583.14 311.53L583.14 318.47L585.32 317.57L585.32 325L587.51 324.1L587.51 331.87L589.69 330.97L589.69 338.89L591.88 337.99L591.88 345.86L594.06 344.96L594.06 352.6L596.25 351.7L596.25 358.93L598.44 358.03L598.44 364.68L600.62 363.78L600.62 369.69L602.81 368.79L602.81 373.83L604.99 372.93L604.99 376.98L607.18 376.08L607.18 379.07L609.36 378.17L609.36 380.03L611.55 380.93L611.55 379.85L613.73 380.75L613.73 378.51L615.92 379.41L615.92 376.07L618.1 376.97L618.1 372.59L620.29 373.49L620.29 368.15L622.48 369.05L622.48 362.88L624.66 363.78L624.66 356.93L626.85 357.83L626.85 350.44L629.03 351.34L629.03 343.61L631.22 344.51L631.22 336.6L633.4 337.5L633.4 329.61L635.59 330.51L635.59 322.83L637.77 323.73L637.77 316.44L639.96 317.34L639.96 310.61L642.15 311.51L642.15 305.5L644.33 306.4L644.33 301.24L646.52 302.14L646.52 297.96L648.7 298.86L648.7 295.73L650.89 296.63L650.89 294.62L653.07 293.72L653.07 294.67L655.26 293.77L655.26 295.86L657.44 294.96L657.44 298.16L659.63 297.26L659.63 301.52L661.81 300.62L661.81 305.84L664 304.94L664 311.01" fill="none" stroke="#0070c0" stroke-width="2.0" stroke-linejoin="round" stroke-linecap="round"/>
<path d="M459.2 343.5V365.1M501 318V335M542 355V372M584.5 318V336M625.5 357V372" stroke="#ff0000" stroke-width="1.3" fill="none"/>
<path d="M421 306V322M444.1 320.4V331.9M487.3 352V368M528 320V338M570.5 352V370M611.5 318V336M653.5 350V368" stroke="#00b050" stroke-width="1.3" fill="none"/>
<path d="M431.8 327.6V350.7M474.4 305V325M515.5 340V360M557 305V322M599 345V362M641 305V324" stroke="#0070c0" stroke-width="1.3" fill="none"/>
<path d="M412.3 352L412.4 300L413.2 280L415 268L415.6 250" fill="none" stroke="#000000" stroke-width="2.0" stroke-linejoin="round" stroke-linecap="round"/>
<path d="M416.8 250L417.2 270L418.2 290L419.2 310L419.6 337.3" fill="none" stroke="#000000" stroke-width="2.2" stroke-linejoin="round" stroke-linecap="round" stroke-linejoin="miter"/>
<rect x="414.8" y="250" width="3" height="26" fill="#000000"/>
<path d="M419.6 337.25L420.8 337.36L422.01 337.72L423.21 337.27L424.42 337.31L425.62 337.39L426.83 336.98L428.03 337.31L429.24 337.43L430.44 337.59L431.65 336.89L432.85 337.1L434.06 336.89L435.26 337.61L436.47 337.49L437.67 336.84L438.88 337.78L440.08 337.76L441.29 337.45L442.49 337.42L443.7 336.96L444.9 336.82L446.11 337.33L447.31 336.86L448.52 336.99L449.72 337.04L450.93 336.83L452.13 337.26L453.34 337.24L454.54 337.64L455.75 337.32L456.95 337.44L458.16 337.3L459.36 337.46L460.57 337.26L461.77 337.08L462.98 337.8L464.18 337.8L465.39 337.64L466.59 337.51L467.8 337.12L469 337.03L470.21 337.09L471.41 336.87L472.62 337.57L473.82 337.2L475.03 337.65L476.23 337.19L477.44 337.76L478.64 337.65L479.85 336.8L481.05 337.01L482.26 337.71L483.46 337.27L484.67 337.78L485.87 337.2L487.08 336.87L488.28 337.43L489.49 337.58L490.69 337.07L491.9 336.89L493.1 337.13L494.31 337.76L495.51 337.56L496.72 336.92L497.92 337.05L499.13 336.9L500.33 336.86L501.54 337.6L502.74 336.98L503.95 337.36L505.15 337.25L506.36 336.99L507.56 337.53L508.77 336.93L509.97 337.44L511.18 336.92L512.38 337.22L513.59 337.01L514.79 337.07L516 337.77L517.2 337.6L518.41 337.1L519.61 337.68L520.82 337.01L522.02 337.19L523.23 337.65L524.43 337.44L525.64 336.9L526.84 337.79L528.05 337.01L529.25 337.06L530.46 337.57L531.66 337.13L532.87 337.1L534.07 336.87L535.28 336.89L536.48 337.38L537.69 337.04L538.89 337.4L540.1 337.17L541.3 337.25L542.5 337.76L543.71 337.28L544.91 337.37L546.12 337.67L547.32 336.98L548.53 336.95L549.73 337.71L550.94 337.62L552.14 337.05L553.35 336.99L554.55 337.54L555.76 337.74L556.96 337L558.17 337.75L559.37 337.68L560.58 337.4L561.78 337.22L562.99 336.9L564.19 336.84L565.4 337.76L566.6 337.04L567.81 337.5L569.01 337.06L570.22 337.62L571.42 337.4L572.63 337.09L573.83 336.98L575.04 337.52L576.24 336.87L577.45 337.03L578.65 337.36L579.86 337.65L581.06 337.41L582.27 337.08L583.47 337.72L584.68 337L585.88 336.82L587.09 337.07L588.29 337.25L589.5 336.86L590.7 336.98L591.91 337.17L593.11 337.37L594.32 336.93L595.52 337.16L596.73 337.69L597.93 337.78L599.14 337.46L600.34 337.49L601.55 337.38L602.75 336.94L603.96 336.84L605.16 336.82L606.37 337.71L607.57 337.5L608.78 337.76L609.98 336.82L611.19 337.44L612.39 337.28L613.6 337.53L614.8 337.12L616.01 337.8L617.21 336.88L618.42 337.35L619.62 337.54L620.83 337.7L622.03 337.54L623.24 337.5L624.44 337.59L625.65 337.72L626.85 337.15L628.06 337.49L629.26 337.7L630.47 337.67L631.67 337.22L632.88 337.59L634.08 337.66L635.29 337.37L636.49 337.42L637.7 337.18L638.9 337.38L640.11 337.41L641.31 336.88L642.52 337.44L643.72 337.79L644.93 337.68L646.13 337.53L647.34 337.19L648.54 337.54L649.75 337.38L650.95 337.24L652.16 337.64L653.36 336.88L654.57 337.55L655.77 336.83L656.98 337.4L658.18 337.28L659.39 337.03L660.59 337.5L661.8 337.3L663 337.41" fill="none" stroke="#000000" stroke-width="3.2" stroke-linejoin="round" stroke-linecap="round" stroke-linejoin="miter"/>
<path d="M459.7 337.3V330M484.3 337.3V330M518.1 337.3V330M545.4 337.3V330M570.1 337.3V330M601.4 337.3V330M628 337.3V330M653.6 337.3V330M430.5 337.3V344M445.1 337.3V344M501.7 337.3V344M526.3 337.3V344M557.8 337.3V344M585.8 337.3V344M610.9 337.3V344M640.5 337.3V344" stroke="#000000" stroke-width="1.5" fill="none"/>
<path d="M411.5 322.89L414.3 317.44L414.3 307.32L417.1 302.33L417.1 293.05L419.9 288.73L419.9 280.71L422.7 277.25L422.7 270.84L425.5 268.4L425.5 263.88L428.3 262.56L428.3 260.13L431.1 260L431.1 259.76L433.9 260.82L433.9 262.79L436.7 265L436.7 269.09L439.5 272.34L439.5 278.37L442.3 282.52L442.3 290.22L445.1 295.09L445.1 304.13L447.9 309.5L447.9 319.48L450.7 325.12L450.7 335.59L453.5 341.25L453.5 351.75L456.3 357.17L456.3 367.25L459.1 372.2L459.1 381.4L461.9 385.67L461.9 393.58L464.7 396.97L464.7 403.26L467.5 405.62L467.5 410L470.3 411.23L470.3 413.51L473.1 413.63L475.9 412.49L475.9 410.36L478.7 408.08L478.7 403.84L481.5 400.53L481.5 394.36L484.3 390.16L484.3 382.34L487.1 377.43L487.1 368.31L489.9 362.91L489.9 352.89L492.7 347.24L492.7 336.75L495.5 331.1L495.5 320.61L498.3 315.21L498.3 305.19L501.1 300.28L501.1 291.16L503.9 286.95L503.9 279.14L506.7 275.82L506.7 269.66L509.5 267.38L509.5 263.14L512.3 261.99L512.3 259.87L515.1 259.99L517.9 261.22L517.9 263.5L520.7 265.86L520.7 270.24L523.5 273.63L523.5 279.92L526.3 284.18L526.3 292.1L529.1 297.05L529.1 306.25L531.9 311.68L531.9 321.75L534.7 327.41L534.7 337.91L537.5 343.55L537.5 354.02L540.3 359.39L540.3 369.37L543.1 374.24L543.1 383.28L545.9 387.43L545.9 395.13L548.7 398.38L548.7 404.41L551.5 406.61L551.5 410.71L554.3 411.77L554.3 413.74L557.1 413.61L557.1 413.37L559.9 412.06L559.9 409.62L562.7 407.19L562.7 402.66L565.5 399.21L565.5 392.79L568.3 388.47L568.3 380.45L571.1 375.45L571.1 366.18L573.9 360.73L573.9 350.61L576.7 344.95L576.7 334.43L579.5 328.8L579.5 318.35L582.3 313.01L582.3 303.08L585.1 298.26L585.1 289.3L587.9 285.21L587.9 277.61L590.7 274.44L590.7 268.54L593.5 266.41L593.5 262.47L596.3 261.49L596.3 259.68L599.1 259.89L599.1 260.29L601.9 261.68L601.9 264.27L604.7 266.78L604.7 271.45L607.5 274.97L607.5 281.51L610.3 285.89L610.3 294.01L613.1 299.05L613.1 308.4L615.9 313.87L615.9 324.04L618.7 329.7L618.7 340.23L621.5 345.85L621.5 356.28L624.3 361.59L624.3 371.46L627.1 376.24L627.1 385.11L629.9 389.14L629.9 396.63L632.7 399.73L632.7 405.5L635.5 407.55L635.5 411.34L638.3 412.24L638.3 413.89L641.1 413.59L641.1 413.04L643.9 411.56L643.9 408.82L646.7 406.23L646.7 401.42L649.5 397.83L649.5 391.17L652.3 386.74L652.3 378.51L655.1 373.44L655.1 364.02L657.9 358.52L657.9 348.32L660.7 342.64L660.7 332.11L663.5 326.51L663.5 316.1" fill="none" stroke="#606060" stroke-width="1.7" stroke-linejoin="round" stroke-linecap="round"/>
</g>
<path d="M585.5 343.5L584 359L595 354.5Z" fill="#000000"/>
<line x1="589" y1="356" x2="604.5" y2="397" stroke="#000000" stroke-width="0.9"/>
<line x1="411.5" y1="264.6" x2="663.3" y2="264.6" stroke="#8c8c8c" stroke-width="0.8" stroke-dasharray="0.9 2.2"/>
<line x1="411.5" y1="336.8" x2="663.3" y2="336.8" stroke="#8c8c8c" stroke-width="0.8" stroke-dasharray="0.9 2.2"/>
<line x1="411.5" y1="408.8" x2="663.3" y2="408.8" stroke="#8c8c8c" stroke-width="0.8" stroke-dasharray="0.9 2.2"/>
<line x1="494.7" y1="252.6" x2="494.7" y2="421" stroke="#8c8c8c" stroke-width="0.8" stroke-dasharray="0.9 2.2"/>
<line x1="577.7" y1="252.6" x2="577.7" y2="421" stroke="#8c8c8c" stroke-width="0.8" stroke-dasharray="0.9 2.2"/>
<line x1="411.5" y1="252.6" x2="663.3" y2="252.6" stroke="#707070" stroke-width="1.1"/>
<line x1="411.5" y1="421" x2="663.3" y2="421" stroke="#707070" stroke-width="1.1"/>
<line x1="411.5" y1="252.6" x2="411.5" y2="421" stroke="#707070" stroke-width="1.1"/>
<line x1="663.3" y1="252.6" x2="663.3" y2="421" stroke="#707070" stroke-width="1.1"/>
<line x1="411.5" y1="264.6" x2="415" y2="264.6" stroke="#000000" stroke-width="1.8"/>
<line x1="659.8" y1="264.6" x2="663.3" y2="264.6" stroke="#000000" stroke-width="1.8"/>
<line x1="411.5" y1="336.8" x2="415" y2="336.8" stroke="#000000" stroke-width="1.8"/>
<line x1="659.8" y1="336.8" x2="663.3" y2="336.8" stroke="#000000" stroke-width="1.8"/>
<line x1="411.5" y1="408.8" x2="415" y2="408.8" stroke="#000000" stroke-width="1.8"/>
<line x1="659.8" y1="408.8" x2="663.3" y2="408.8" stroke="#000000" stroke-width="1.8"/>
<line x1="494.7" y1="252.6" x2="494.7" y2="256.1" stroke="#000000" stroke-width="1.8"/>
<line x1="494.7" y1="417.5" x2="494.7" y2="421" stroke="#000000" stroke-width="1.8"/>
<line x1="577.7" y1="252.6" x2="577.7" y2="256.1" stroke="#000000" stroke-width="1.8"/>
<line x1="577.7" y1="417.5" x2="577.7" y2="421" stroke="#000000" stroke-width="1.8"/>
<g clip-path="url(#clipE)">
<path d="M62.6 583L63.2 582L63.2 611L64.6 610L64.6 635.7L66.5 634.7L66.5 651L67.5 650L67.5 671" fill="none" stroke="#00b050" stroke-width="2.0" stroke-linejoin="round" stroke-linecap="round"/>
<path d="M80.8 671L80.8 662.3L83.6 663.3L83.6 645.2L84.6 646.2L84.6 628.1L86.5 629.1L86.5 613L88.4 614L88.4 599.7L90 600.7L90 590.3L92.6 591.3L92.6 585L93.5 586L93.5 582.4L93.9 583.4L93.9 558.8L95.3 559.8L95.3 550L97.9 551L97.9 536.1L100.7 537.1L100.7 529.9L103.5 530.9L103.5 523.7L105.4 524.7L105.4 521.8L107.3 522.8L107.3 519.9L109.83 518.9L109.83 521.5L112.37 520.5L112.37 523.1L114.9 522.1L114.9 524.7L117.28 523.7L117.28 527.55L119.65 526.55L119.65 530.4L122.03 529.4L122.03 533.25L124.4 532.25L124.4 536.1L124.6 561.4L126.8 560.4L126.8 564.9L130.3 563.9L130.3 566.6L133.8 565.6L133.8 568.4L135.5 567.4L135.5 570.1L135.5 593.8L138.2 592.8L138.2 600L140.8 599L140.8 605.2L144.3 604.2L144.3 613.6L147.9 612.6L147.9 617.9L150.8 618.9L150.8 612.9L153.32 613.9L153.32 612.9L155.83 613.9L155.83 612.9L158.35 613.9L158.35 612.9L160.87 613.9L160.87 612.9L163.38 613.9L163.38 612.9L165.9 613.9L165.9 612.9L166.7 613.9L166.7 589.1L168.5 588.1L168.5 593.4L170.3 592.4L170.3 597.7L172.8 596.7L172.8 601.3L175.3 600.3L175.3 604.9L176 605.9L176 584.8L178.9 585.8L178.9 579L181.05 580L181.05 576.85L183.2 577.85L183.2 574.7L185.4 575.7L185.4 572.5L187.6 573.5L187.6 570.3L190 571.3L190 569.83L192.4 570.83L192.4 569.37L194.8 570.37L194.8 568.9L197.65 569.9L197.65 566L200.5 567L200.5 563.1L203.4 564.1L203.4 558.8L206.3 559.8L206.3 554.5L207 553.5L207 577.5L210.6 578.5L210.6 570.3L213.5 571.3L213.5 563.1L215.65 564.1L215.65 559.5L217.8 560.5L217.8 555.9L218.9 556.9L218.9 555L221.8 554L221.8 566.4L223.65 565.4L223.65 576.85L225.5 575.85L225.5 587.3L227.4 586.3L227.4 594L230.3 593L230.3 613L232.2 612L232.2 618.65L234.1 617.65L234.1 624.3L235 625.3L235 600L236.9 599L236.9 605.5L238.8 604.5L238.8 611L241.65 610L241.65 615.75L244.5 614.75L244.5 620.5L247.35 619.5L247.35 621L250.2 620L250.2 621.5L252.1 622.5L252.1 618.2L254 619.2L254 614.9L255.9 615.9L255.9 599.7L257.8 598.7L257.8 614.9L259.7 615.9L259.7 606.35L261.6 607.35L261.6 597.8L263.5 598.8L263.5 585L266.35 586L266.35 575.7L269.2 576.7L269.2 566.4L271.55 567.4L271.55 554.55L273.9 555.55L273.9 542.7L275.8 541.7L275.8 570.2L278.03 571.2L278.03 562.6L280.27 563.6L280.27 555L282.5 556L282.5 547.4L285.35 548.4L285.35 545.05L288.2 546.05L288.2 542.7L291.05 541.7L291.05 546.95L293.9 545.95L293.9 551.2L295.8 550.2L295.8 562.6L297.7 563.6L297.7 556.9L299.6 557.9L299.6 551.2L301.5 550.2L301.5 561.65L303.4 560.65L303.4 572.1L305.3 571.1L305.3 575L307.15 574L307.15 580.7L309 579.7L309 586.4" fill="none" stroke="#00b050" stroke-width="2.0" stroke-linejoin="round" stroke-linecap="round"/>
<path d="M78.5 503.4L80.6 502.4L80.6 512.15L82.7 511.15L82.7 520.9L85.55 519.9L85.55 529.45L88.4 528.45L88.4 538L90.95 537L90.95 544L93.5 543L93.5 550L93.5 558L94.8 557L94.8 574.5L96.8 573.5L96.8 576.25L98.8 575.25L98.8 578L100.5 577L100.5 578.9L104 579.9L104 576.3L104.9 577.3L104.9 571.9L107.5 572.9L107.5 571L110.1 572L110.1 566.6L110.6 565.6L110.6 578L111.9 577L111.9 579.8L112.3 578.8L112.3 597.3L114.5 598.3L114.5 593.8L118 594.8L118 587.7L121.5 588.7L121.5 582.4L124.6 583.4L124.6 578L126.8 577L126.8 578.9L129.4 577.9L129.4 583.3L132.9 582.3L132.9 588.5L135.5 587.5L135.5 592.5L136.4 593.5L136.4 571L139 570L139 575.4L142.6 574.4L142.6 583.3L145.8 582.3L145.8 592L147.95 591L147.95 599.2L150.1 598.2L150.1 606.4L151.5 605.4L151.5 610.7L152.3 611.7L152.3 582.6L154.4 581.6L154.4 590.5L156.55 589.5L156.55 596.25L158.7 595.25L158.7 602L160.9 601L160.9 605.65L163.1 604.65L163.1 609.3L165.9 608.3L165.9 616.5L168.5 617.5L168.5 614L171.7 615L171.7 607.8L173.9 608.8L173.9 596.3L176 595.3L176 613.6L178.9 614.6L178.9 603.5L181.8 604.5L181.8 587.6L184.7 588.6L184.7 576.1L187.6 577.1L187.6 566L190.4 567L190.4 551.6L191.9 552.6L191.9 543L194 542L194 566L197.6 567L197.6 553L200.5 554L200.5 548L203.4 549L203.4 543L206.3 544L206.3 540.8L208.45 539.8L208.45 543.35L210.6 542.35L210.6 545.9L213.5 544.9L213.5 554.5L215.6 553.5L215.6 571.8L218 572.8L218 549.3L218.9 548.3L218.9 579.7L221.8 578.7L221.8 585.4L223.65 584.4L223.65 588.75L225.5 587.75L225.5 592.1L227.4 591.1L227.4 594.45L229.3 593.45L229.3 596.8L232.15 595.8L232.15 597.3L235 596.3L235 597.8L237.85 596.8L237.85 600.65L240.7 599.65L240.7 603.5L242.93 602.5L242.93 606.67L245.17 605.67L245.17 609.83L247.4 608.83L247.4 613L248.3 614L248.3 589.2L250.83 588.2L250.83 594.6L253.37 593.6L253.37 600L255.9 599L255.9 605.4L257.8 606.4L257.8 590.2L259 591.2L259 584L261.25 585L261.25 578.05L263.5 579.05L263.5 572.1L266.03 573.1L266.03 570.53L268.57 571.53L268.57 568.97L271.1 569.97L271.1 567.4L273.63 568.4L273.63 565.8L276.17 566.8L276.17 564.2L278.7 565.2L278.7 562.6L281.07 563.6L281.07 560.48L283.45 561.48L283.45 558.35L285.82 559.35L285.82 556.23L288.2 557.23L288.2 554.1L289.1 553.1L289.1 577.8L291.5 578.8L291.5 570.2L293.9 571.2L293.9 562.6L295.8 563.6L295.8 560.7L297.7 561.7L297.7 558.8L299.6 559.8L299.6 551.2L301.5 550.2L301.5 563L302.5 562L302.5 582.6L304.85 581.6L304.85 588.3L307.2 587.3L307.2 594L308.6 593L308.6 596" fill="none" stroke="#ff0000" stroke-width="2.0" stroke-linejoin="round" stroke-linecap="round"/>
<path d="M63.2 590L63.4 503.5" fill="none" stroke="#0070c0" stroke-width="2.0" stroke-linejoin="round" stroke-linecap="round"/>
<path d="M71.3 503.5L72.2 502.5L72.2 517.1L74.1 516.1L74.1 543.7L77 542.7L77 560.7L78.9 559.7L78.9 575L80.8 574L80.8 586.4L82.7 585.4L82.7 593.05L84.6 592.05L84.6 599.7L84.6 628.1L86.5 627.1L86.5 633.8L88.4 632.8L88.4 638.55L90.3 637.55L90.3 643.3L93.15 642.3L93.15 648.05L96 647.05L96 652.8L98.85 651.8L98.85 658.95L101.7 657.95L101.7 665.1L104.5 666.1L104.5 662.75L107.3 663.75L107.3 660.4L110.2 661.4L110.2 650.9L111.1 651.9L111.1 630L113 631L113 623.4L114.9 624.4L114.9 616.8L117.2 617.8L117.2 609.6L119.8 610.6L119.8 607.8L123.3 608.8L123.3 603.4L124.6 604.4L124.6 603L124.6 575L126.8 576L126.8 571.9L128.5 572.9L128.5 564.9L131.2 565.9L131.2 560.5L133.8 561.5L133.8 554.4L135.9 555.4L135.9 547.7L138 548.7L138 541L140.4 542L140.4 531.7L142.8 532.7L142.8 522.4L145.12 523.4L145.12 522.4L147.45 523.4L147.45 522.4L149.78 523.4L149.78 522.4L152.1 523.4L152.1 522.4L152.3 555.2L154.43 556.2L154.43 554L156.57 555L156.57 552.8L158.7 553.8L158.7 551.6L160.87 552.6L160.87 549.2L163.03 550.2L163.03 546.8L165.2 547.8L165.2 544.4L165.9 543.4L165.9 568.9L168.1 567.9L168.1 571.8L170.3 570.8L170.3 574.7L172.45 573.7L172.45 579L174.6 578L174.6 583.3L177.5 582.3L177.5 590.5L178.9 589.5L178.9 599.2L181.05 598.2L181.05 604.95L183.2 603.95L183.2 610.7L185.4 609.7L185.4 616.45L187.6 615.45L187.6 622.2L189.75 621.2L189.75 628.7L191.9 627.7L191.9 635.2L193.3 636.2L193.3 603.5L195.45 602.5L195.45 606.4L197.6 605.4L197.6 609.3L199.8 608.3L199.8 612.15L202 611.15L202 615L204.15 614L204.15 619.7L206.3 618.7L206.3 624.4L207 625.4L207 602L210.6 603L210.6 596.3L212.75 597.3L212.75 591.95L214.9 592.95L214.9 587.6L218.5 588.6L218.5 579L221.1 580L221.1 566.05L223.7 567.05L223.7 553.1L226.5 554.1L226.5 544.6L229.3 545.6L229.3 536.1L231.7 537.1L231.7 532.75L234.1 533.75L234.1 529.4L234.1 562.6L236.3 563.6L236.3 558.8L238.5 559.8L238.5 555L240.7 556L240.7 551.2L242.93 552.2L242.93 548.37L245.17 549.37L245.17 545.53L247.4 546.53L247.4 542.7L248.3 541.7L248.3 566.4L251.15 565.4L251.15 570.2L254 569.2L254 574L255.9 573L255.9 578.75L257.8 577.75L257.8 583.5L259.7 582.5L259.7 592.1L261.6 591.1L261.6 600.65L263.5 599.65L263.5 609.2L266.35 608.2L266.35 616.75L269.2 615.75L269.2 624.3L271.55 623.3L271.55 630L273.9 629L273.9 635.7L274.9 636.7L274.9 603.5L277.75 602.5L277.75 606.35L280.6 605.35L280.6 609.2L283.13 608.2L283.13 614.23L285.67 613.23L285.67 619.27L288.2 618.27L288.2 624.3L289.1 625.3L289.1 599.7L291.33 600.7L291.33 595.9L293.57 596.9L293.57 592.1L295.8 593.1L295.8 588.3L298.65 589.3L298.65 581.65L301.5 582.65L301.5 575L303.85 576L303.85 561.2L306.2 562.2L306.2 547.4L309 548.4L309 543.7" fill="none" stroke="#0070c0" stroke-width="2.0" stroke-linejoin="round" stroke-linecap="round"/>
</g>
<line x1="62.5" y1="582.6" x2="308.6" y2="582.6" stroke="#8c8c8c" stroke-width="0.8" stroke-dasharray="0.9 2.2"/>
<line x1="62.5" y1="662.5" x2="308.6" y2="662.5" stroke="#8c8c8c" stroke-width="0.8" stroke-dasharray="0.9 2.2"/>
<line x1="144.7" y1="503.5" x2="144.7" y2="671" stroke="#8c8c8c" stroke-width="0.8" stroke-dasharray="0.9 2.2"/>
<line x1="226.9" y1="503.5" x2="226.9" y2="671" stroke="#8c8c8c" stroke-width="0.8" stroke-dasharray="0.9 2.2"/>
<line x1="62.5" y1="503.5" x2="308.6" y2="503.5" stroke="#555" stroke-width="1.1"/>
<line x1="62.5" y1="671" x2="308.6" y2="671" stroke="#555" stroke-width="1.1"/>
<line x1="62.5" y1="503.5" x2="62.5" y2="671" stroke="#555" stroke-width="1.1"/>
<line x1="308.6" y1="503.5" x2="308.6" y2="671" stroke="#555" stroke-width="1.1"/>
<line x1="62.5" y1="582.6" x2="66" y2="582.6" stroke="#000000" stroke-width="1.8"/>
<line x1="305.1" y1="582.6" x2="308.6" y2="582.6" stroke="#000000" stroke-width="1.8"/>
<line x1="62.5" y1="662.5" x2="66" y2="662.5" stroke="#000000" stroke-width="1.8"/>
<line x1="305.1" y1="662.5" x2="308.6" y2="662.5" stroke="#000000" stroke-width="1.8"/>
<line x1="144.7" y1="503.5" x2="144.7" y2="507" stroke="#000000" stroke-width="1.8"/>
<line x1="144.7" y1="667.5" x2="144.7" y2="671" stroke="#000000" stroke-width="1.8"/>
<line x1="226.9" y1="503.5" x2="226.9" y2="507" stroke="#000000" stroke-width="1.8"/>
<line x1="226.9" y1="667.5" x2="226.9" y2="671" stroke="#000000" stroke-width="1.8"/>
<g clip-path="url(#clipF1)">
<path d="M409.4 540.1L411.65 540.34L411.65 540.7L413.9 540.94L413.9 541.3L416.2 541.7L416.2 542.3L418.5 542.7L418.5 543.3L420.8 543.7L420.8 544.3L423.75 544.38L423.75 544.5L426.7 544.58L426.7 544.7L429.65 544.02L429.65 543L432.6 542.32L432.6 541.3L435.23 540.38L435.23 539L437.87 538.08L437.87 536.7L440.5 535.78L440.5 534.4L443.13 533.35L443.13 531.77L445.77 530.71L445.77 529.13L448.4 528.08L448.4 526.5L451 525.71L451 524.53L453.6 523.75L453.6 522.57L456.2 521.78L456.2 520.6L458.7 520.22L458.7 519.65L461.2 519.27L461.2 518.7L463.5 519.35L463.5 520.33L465.8 520.99L465.8 521.97L468.1 522.62L468.1 523.6L470.4 524.52L470.4 525.9L472.7 526.82L472.7 528.2L475 529.12L475 530.5L477.45 532.08L477.45 534.45L479.9 536.03L479.9 538.4L481.85 539.96L481.85 542.3L483.8 543.86L483.8 546.2L485.8 548.18L485.8 551.15L487.8 553.13L487.8 556.1L490.25 558.08L490.25 561.05L492.7 563.03L492.7 566L495.15 567.1L495.15 568.75L497.6 569.85L497.6 571.5L502.6 571.5L505.05 570.78L505.05 569.7L507.5 568.98L507.5 567.9L510.45 565.94L510.45 563L513.4 561.04L513.4 558.1L516.35 555.72L516.35 552.15L519.3 549.77L519.3 546.2L521.3 543.84L521.3 540.3L523.3 537.94L523.3 534.4L526.25 531.26L526.25 526.55L529.2 523.41L529.2 518.7L532.15 516.72L532.15 513.75L535.1 511.77L535.1 508.8L538.5 508L538.5 506.8L543 506.8L545.42 507.49L545.42 508.53L547.85 509.22L547.85 510.25L550.28 510.94L550.28 511.98L552.7 512.67L552.7 513.7L555.33 515.67L555.33 518.63L557.97 520.61L557.97 523.57L560.6 525.54L560.6 528.5L563.55 531.66L563.55 536.4L566.5 539.56L566.5 544.3L569.45 547.06L569.45 551.2L572.4 553.96L572.4 558.1L575.4 560.06L575.4 563L578.4 564.96L578.4 567.9L582.3 569.5L582.3 571.9L587 571.9L589.37 570.98L589.37 569.6L591.73 568.68L591.73 567.3L594.1 566.38L594.1 565L596.73 562.76L596.73 559.4L599.37 557.16L599.37 553.8L602 551.56L602 548.2L604.95 545.04L604.95 540.3L607.9 537.14L607.9 532.4L610.85 529.66L610.85 525.55L613.8 522.81L613.8 518.7L616.43 517.38L616.43 515.4L619.07 514.08L619.07 512.1L621.7 510.78L621.7 508.8L625 507.84L625 506.4L630 506.4L632.5 507.24L632.5 508.5L635 509.34L635 510.6L637.5 511.44L637.5 512.7L640.13 514.54L640.13 517.3L642.77 519.14L642.77 521.9L645.4 523.74L645.4 526.5L648 529.13L648 533.07L650.6 535.69L650.6 539.63L653.2 542.26L653.2 546.2L655.83 548.31L655.83 551.47L658.47 553.57L658.47 556.73L661.1 558.84L661.1 562L663.1 563.78L663.1 566.45L665.1 568.23L665.1 570.9" fill="none" stroke="#ff0000" stroke-width="1.6" stroke-linejoin="round" stroke-linecap="round"/>
<path d="M409.8 546.26L410.61 545.83L411.43 544.95L412.24 544.45L413.06 543.76L413.87 542.54L414.69 541.78L415.5 541.8L416 540.28L416.5 539.26L417 538.95L417.5 537.47L418 536.93L418.5 535.73L419 535L419.5 533.69L420.25 533.37L421 532.83L421.85 533.47L422.7 534.62L423.5 535.15L424.3 535.21L425.1 536.43L425.9 536.88L426.7 537.22L427.68 537.45L428.65 538.68L429.62 538.8L430.6 539.5L431.78 539.54L432.96 539.29L434.14 539.38L435.32 538.81L436.5 539.07L437.49 538.58L438.48 538.84L439.46 538.62L440.45 537.74L441.44 537.6L442.42 537.5L443.41 537.99L444.4 537.34L445.39 537.26L446.38 536.72L447.36 536.66L448.35 536.3L449.34 536.02L450.32 535.98L451.31 535.73L452.3 535.76L453.29 535.34L454.28 535.34L455.27 535.05L456.26 534.95L457.24 534.44L458.23 533.76L459.22 534.17L460.21 534.04L461.2 533.76L462.18 533.68L463.16 534.04L464.13 533.81L465.11 534.59L466.09 534.58L467.07 534.54L468.04 534.56L469.02 535.5L470 535.84L470.99 535.52L471.98 536.65L472.96 536.78L473.95 537.04L474.94 537.65L475.92 538.57L476.91 539.15L477.9 538.89L478.89 539.9L479.88 539.89L480.86 541L481.85 541.15L482.84 542.14L483.82 542.73L484.81 542.8L485.8 543.75L486.79 543.46L487.78 543.58L488.77 544.38L489.76 544.2L490.75 544.68L491.74 545.2L492.73 545.71L493.72 545.63L494.71 545.86L495.7 546.93L496.69 546.72L497.67 547.58L498.66 547.81L499.64 547.63L500.63 547.99L501.61 548.33L502.6 548.73L503.58 548.46L504.56 548.21L505.53 548.04L506.51 548.11L507.49 547.5L508.47 547.2L509.44 547.24L510.42 546.59L511.4 546.42L512.28 546.44L513.16 545.44L514.03 544.88L514.91 543.8L515.79 543.58L516.67 543.14L517.54 542.05L518.42 541.99L519.3 541.42L520.18 540.25L521.06 540.1L521.93 539.3L522.81 538.84L523.69 537.89L524.57 537.55L525.44 536.93L526.32 535.63L527.2 535L528.08 535.01L528.96 534.73L529.83 533.54L530.71 533.18L531.59 532.76L532.47 531.97L533.34 531.47L534.22 530.88L535.1 530.38L536.08 530.34L537.05 529.82L538.02 529.64L539 529.75L539.98 528.82L540.95 529.06L541.92 528.96L542.9 528.33L543.82 528.64L544.74 529.56L545.66 529.44L546.58 529.79L547.5 530.41L548.42 531.04L549.34 530.89L550.26 531.49L551.18 531.89L552.1 532.73L553.02 532.77L553.94 533.54L554.86 533.32L555.78 533.86L556.7 534.54L557.52 535.4L558.33 535.67L559.15 536.13L559.97 536.69L560.78 537.72L561.6 538.07L562.42 539.28L563.23 539.97L564.05 540.04L564.87 540.78L565.68 541.92L566.5 542.43L567.42 543.03L568.33 543.07L569.25 543.33L570.16 543.93L571.08 544.83L571.99 544.82L572.91 545.34L573.82 545.86L574.74 546.31L575.65 546.76L576.57 547.67L577.48 547.44L578.4 547.75L579.38 548.9L580.35 549.14L581.33 549.54L582.3 549.34L583.27 550.11L584.25 550.38L585.23 550.05L586.2 550.82L587.12 550.48L588.04 549.91L588.96 549.36L589.88 548.73L590.8 548.36L591.72 547.83L592.64 547.27L593.56 547.32L594.48 546.63L595.4 546.68L596.32 545.57L597.24 545.92L598.16 545.31L599.08 545.1L600 544.66L600.71 543.95L601.41 542.95L602.12 541.74L602.83 541.69L603.54 540.47L604.24 539.88L604.95 539.5L605.66 538.67L606.36 537.86L607.07 537.62L607.78 536.62L608.49 535.67L609.19 534.88L609.9 534.73L610.89 533.89L611.88 533.68L612.86 532.8L613.85 532.18L614.84 531.99L615.82 531.76L616.81 530.69L617.8 530.76L618.78 530.64L619.76 530.3L620.74 530.07L621.72 529.1L622.7 529.42L623.68 529.39L624.66 528.41L625.64 528.37L626.62 528.13L627.6 528.12L628.52 528.45L629.44 528.92L630.36 529.61L631.28 529.33L632.2 529.8L633.12 530.28L634.04 530.7L634.96 531.07L635.88 532.31L636.8 532.62L637.72 532.35L638.64 533.14L639.56 533.39L640.48 533.81L641.4 534.27L642.24 535.1L643.09 535.61L643.93 535.97L644.77 536.38L645.61 537.07L646.46 537.45L647.3 538.4L648.14 539.11L648.99 539.37L649.83 539.66L650.67 540.32L651.51 541.06L652.36 541.83L653.2 542.55L654.11 542.65L655.02 543.48L655.92 543.77L656.83 544.05L657.74 544.45L658.65 545.02L659.55 545.66L660.46 545.86L661.37 546.56L662.28 546.8L663.18 547.06L664.09 547.78L665 548.38" fill="none" stroke="#000000" stroke-width="1.9" stroke-linejoin="round" stroke-linecap="round"/>
</g><g clip-path="url(#clipF2)">
<path d="M410.9 631.4L422.7 631.4L425.33 631.92L425.33 632.7L427.97 633.22L427.97 634L430.6 634.52L430.6 635.3L433.23 636.09L433.23 637.27L435.87 638.05L435.87 639.23L438.5 640.02L438.5 641.2L441.45 642.2L441.45 643.7L444.4 644.7L444.4 646.2L451.3 646.2L453.6 645.53L453.6 644.53L455.9 643.87L455.9 642.87L458.2 642.2L458.2 641.2L461.15 640.22L461.15 638.75L464.1 637.77L464.1 636.3L466.1 634.72L466.1 632.35L468.1 630.77L468.1 628.4L471.05 626.24L471.05 623L474 620.84L474 617.6L476.63 616.28L476.63 614.3L479.27 612.98L479.27 611L481.9 609.68L481.9 607.7L485 606.02L485 603.5L490.5 603.5L493.1 604.16L493.1 605.15L495.7 605.81L495.7 606.8L498.65 608.16L498.65 610.2L501.6 611.56L501.6 613.6L505.5 616.76L505.5 621.5L507.5 623.88L507.5 627.45L509.5 629.83L509.5 633.4L512.45 636.16L512.45 640.3L515.4 643.06L515.4 647.2L518.35 649.16L518.35 652.1L521.3 654.06L521.3 657L523.65 658.3L523.65 660.25L526 661.55L526 663.5L531 663.5L533.05 663L533.05 662.25L535.1 661.75L535.1 661L537.7 659.41L537.7 657.03L540.3 655.45L540.3 653.07L542.9 651.48L542.9 649.1L545.53 646.74L545.53 643.2L548.17 640.84L548.17 637.3L550.8 634.94L550.8 631.4L553.75 628.64L553.75 624.5L556.7 621.74L556.7 617.6L559.65 615.62L559.65 612.65L562.6 610.67L562.6 607.7L565.55 606.32L565.55 604.25L568.5 602.87L568.5 600.8L575.4 600.8L577.7 601.72L577.7 603.1L580 604.02L580 605.4L582.3 606.32L582.3 607.7L585.25 609.68L585.25 612.65L588.2 614.63L588.2 617.6L591.15 620.36L591.15 624.5L594.1 627.26L594.1 631.4L597.05 634.16L597.05 638.3L600 641.06L600 645.2L602.63 646.91L602.63 649.47L605.27 651.17L605.27 653.73L607.9 655.44L607.9 658L610.85 659.18L610.85 660.95L613.8 662.13L613.8 663.9L617.8 663.9L620.75 662.52L620.75 660.45L623.7 659.07L623.7 657L626.65 654.64L626.65 651.1L629.6 648.74L629.6 645.2L632.55 642.04L632.55 637.3L635.5 634.14L635.5 629.4L638.45 626.64L638.45 622.5L641.4 619.74L641.4 615.6L644.03 614.16L644.03 612L646.67 610.56L646.67 608.4L649.3 606.96L649.3 604.8L651.25 604L651.25 602.8L653.2 602L653.2 600.8L661.1 600.8L664.3 602L664.3 603.8L667.5 605L667.5 606.8" fill="none" stroke="#0070c0" stroke-width="1.6" stroke-linejoin="round" stroke-linecap="round"/>
<path d="M410.5 622.61L410.55 623.83L410.6 624.99L410.65 626.24L410.7 627.17L410.75 628.44L410.8 628.75L410.85 630.26L410.9 631.8L411.4 632.51L411.9 633.71L412.4 633.98L412.9 635.27L413.13 636.1L413.36 637.4L413.59 638.45L413.81 638.98L414.04 640.19L414.27 641.27L414.5 642.87L415.8 644.24L416.8 642.79L417.8 642.47L417.97 640.72L418.13 640.01L418.3 638.41L418.47 637.15L418.63 636.78L418.8 635.04L419.77 634.32L420.75 634.28L421.73 633.46L422.7 632.21L423.83 632.96L424.96 632.72L426.09 632.99L427.21 632.71L428.34 633.51L429.47 633.43L430.6 633.82L431.59 633.94L432.58 633.6L433.57 633.85L434.56 633.86L435.55 634.03L436.54 634.15L437.53 634.55L438.52 635.01L439.51 634.66L440.5 635.46L441.57 635.19L442.65 635.2L443.72 635.7L444.79 635.43L445.86 635.32L446.94 635.5L448.01 635.74L449.08 635.19L450.15 636.05L451.23 635.23L452.3 635.92L453.4 635.85L454.5 634.96L455.6 635.49L456.7 634.96L457.8 634.99L458.9 634.32L460 634.2L461.1 634.17L462.2 634.71L463.07 633.48L463.93 633.44L464.8 633.05L465.67 632.52L466.53 631.44L467.4 630.9L468.27 630.51L469.13 630.19L470 629.05L470.99 629.33L471.98 629.09L472.97 628.85L473.96 627.82L474.95 628.35L475.94 627.29L476.93 627.23L477.92 627.18L478.91 627.17L479.9 626.36L480.99 626.82L482.08 626.41L483.17 626.13L484.26 626.07L485.34 625.88L486.43 625.72L487.52 625.72L488.61 626.14L489.7 626.35L490.83 625.68L491.96 625.67L493.09 626.6L494.21 626.27L495.34 626.24L496.47 626.18L497.6 626.58L498.59 627.16L499.58 627.19L500.56 627.52L501.55 627.55L502.54 628.69L503.52 628.25L504.51 629.03L505.5 629.7L506.38 629.72L507.26 630.92L508.13 631.77L509.01 632.14L509.89 632.94L510.77 632.98L511.64 633.93L512.52 634.33L513.4 635.61L514.28 635.67L515.16 636.37L516.03 637.42L516.91 637.84L517.79 638.51L518.67 638.59L519.54 639.18L520.42 639.95L521.3 640.28L522.28 640.43L523.27 640.85L524.25 640.93L525.23 641.46L526.22 642.32L527.2 642.61L528.31 642.31L529.43 642.2L530.54 642.05L531.66 641.83L532.77 642L533.89 642.45L535 642.53L535.83 641.5L536.65 641.31L537.48 640.72L538.3 640.08L539.12 639.47L539.95 638.98L540.77 638.05L541.6 637.78L542.42 636.83L543.25 636.44L544.07 636.12L544.9 635.47L545.71 634.48L546.52 634.43L547.34 633.53L548.15 632.83L548.96 631.68L549.77 631.53L550.58 630.63L551.39 630.37L552.21 629.55L553.02 629.23L553.83 628.44L554.64 627.94L555.45 626.9L556.26 626.54L557.08 625.98L557.89 625.43L558.7 624.37L559.68 624.56L560.67 624.33L561.65 623.92L562.63 623.93L563.62 623.66L564.6 623.02L565.58 622.78L566.57 622.2L567.55 622.55L568.53 622.39L569.52 621.73L570.5 621.67L571.48 621.95L572.47 622.21L573.45 621.95L574.43 622.75L575.42 622.82L576.4 623.15L577.38 623.18L578.37 623.61L579.35 624L580.33 624.12L581.32 624.45L582.3 624.07L583.12 624.77L583.95 625.6L584.77 626.36L585.6 626.55L586.42 627.54L587.25 628.07L588.08 628.11L588.9 629.07L589.73 629.43L590.55 629.85L591.38 630.5L592.2 631.24L593.09 631.74L593.98 632.38L594.87 632.86L595.76 633.88L596.65 634.43L597.55 635.26L598.44 635.87L599.33 636.18L600.22 637.41L601.11 637.22L602 638.21L602.98 638.43L603.97 638.87L604.95 638.93L605.93 639.9L606.92 639.81L607.9 639.83L608.88 640.68L609.87 640.54L610.85 641.27L611.83 641.41L612.82 641.95L613.8 642.61L614.79 642.3L615.78 641.75L616.77 641.91L617.76 641.57L618.75 641.13L619.74 640.74L620.73 640.96L621.72 640.74L622.71 640.9L623.7 640.72L624.59 639.77L625.48 638.91L626.37 638.77L627.26 637.34L628.15 636.81L629.05 636.6L629.94 636.01L630.83 634.96L631.72 634.77L632.61 634.38L633.5 633.29L634.33 632.76L635.15 632L635.98 631.49L636.8 631.53L637.62 630.42L638.45 630.37L639.27 629.75L640.1 628.89L640.92 628.01L641.75 628.08L642.57 627.07L643.4 626.42L644.38 625.92L645.37 626.1L646.35 625.24L647.33 624.64L648.32 624.4L649.3 623.66L650.28 623.69L651.27 623.12L652.25 622.56L653.23 622.59L654.22 622.21L655.2 621.06L656.27 621.71L657.35 621.66L658.42 622.44L659.49 622.48L660.56 622.18L661.64 622.38L662.71 622.46L663.78 623.39L664.85 622.95L665.93 623.42L667 623.48" fill="none" stroke="#000000" stroke-width="1.9" stroke-linejoin="round" stroke-linecap="round"/>
</g>
<line x1="411.2" y1="540" x2="665" y2="540" stroke="#8c8c8c" stroke-width="0.8" stroke-dasharray="0.9 2.2"/>
<line x1="494" y1="501.7" x2="494" y2="577.4" stroke="#8c8c8c" stroke-width="0.8" stroke-dasharray="0.9 2.2"/>
<line x1="579" y1="501.7" x2="579" y2="577.4" stroke="#8c8c8c" stroke-width="0.8" stroke-dasharray="0.9 2.2"/>
<line x1="411.2" y1="501.7" x2="665" y2="501.7" stroke="#8a8a8a" stroke-width="1.2"/>
<line x1="411.2" y1="577.4" x2="665" y2="577.4" stroke="#8a8a8a" stroke-width="1.2"/>
<line x1="411.2" y1="501.7" x2="411.2" y2="577.4" stroke="#8a8a8a" stroke-width="1.2"/>
<line x1="665" y1="501.7" x2="665" y2="577.4" stroke="#8a8a8a" stroke-width="1.2"/>
<line x1="661.5" y1="540" x2="665" y2="540" stroke="#000000" stroke-width="1.8"/>
<line x1="494" y1="501.7" x2="494" y2="505.2" stroke="#000000" stroke-width="1.8"/>
<line x1="494" y1="573.9" x2="494" y2="577.4" stroke="#000000" stroke-width="1.8"/>
<line x1="579" y1="501.7" x2="579" y2="505.2" stroke="#000000" stroke-width="1.8"/>
<line x1="579" y1="573.9" x2="579" y2="577.4" stroke="#000000" stroke-width="1.8"/>
<line x1="411.2" y1="632" x2="665.8" y2="632" stroke="#8c8c8c" stroke-width="0.8" stroke-dasharray="0.9 2.2"/>
<line x1="495.3" y1="596.3" x2="495.3" y2="668.4" stroke="#8c8c8c" stroke-width="0.8" stroke-dasharray="0.9 2.2"/>
<line x1="580.3" y1="596.3" x2="580.3" y2="668.4" stroke="#8c8c8c" stroke-width="0.8" stroke-dasharray="0.9 2.2"/>
<line x1="411.2" y1="596.3" x2="665.8" y2="596.3" stroke="#8a8a8a" stroke-width="1.2"/>
<line x1="411.2" y1="668.4" x2="665.8" y2="668.4" stroke="#8a8a8a" stroke-width="1.2"/>
<line x1="411.2" y1="596.3" x2="411.2" y2="668.4" stroke="#8a8a8a" stroke-width="1.2"/>
<line x1="665.8" y1="596.3" x2="665.8" y2="668.4" stroke="#8a8a8a" stroke-width="1.2"/>
<line x1="662.3" y1="632" x2="665.8" y2="632" stroke="#000000" stroke-width="1.8"/>
<line x1="495.3" y1="596.3" x2="495.3" y2="599.8" stroke="#000000" stroke-width="1.8"/>
<line x1="495.3" y1="664.9" x2="495.3" y2="668.4" stroke="#000000" stroke-width="1.8"/>
<line x1="580.3" y1="596.3" x2="580.3" y2="599.8" stroke="#000000" stroke-width="1.8"/>
<line x1="580.3" y1="664.9" x2="580.3" y2="668.4" stroke="#000000" stroke-width="1.8"/>
<g font-family="Liberation Serif, serif" fill="#000" stroke="#000" stroke-width="0.2">
<text x="31.4" y="12.6" font-size="17.5">500</text>
<text x="51.15" y="93.9" font-size="17.5">0</text>
<text x="26.4" y="177.95" font-size="17.5">-500</text>
<text x="67.75" y="202.45" font-size="17.5">0</text>
<text x="172.55" y="202.45" font-size="17.5">0.02</text>
<text x="293.1" y="202.5" font-size="17.5">0.04</text>
<text x="167.25" y="229.9" font-size="19">(a)</text>
<text x="29.95" y="156.1" font-size="17.5" transform="rotate(-90 29.95 156.1)">Source voltage (V)</text>
<text x="389.4" y="12.0" font-size="17.5">10</text>
<text x="399.65" y="92.15" font-size="17.5">0</text>
<text x="383.6" y="175.2" font-size="17.5">-10</text>
<text x="415.55" y="200.45" font-size="17.5">0</text>
<text x="529.3" y="200.15" font-size="17.5">0.02</text>
<text x="655.2" y="200.15" font-size="17.5">0.04</text>
<text x="526.25" y="226.7" font-size="19.5">(b)</text>
<text x="385.25" y="145.75" font-size="17.5" transform="rotate(-90 385.25 145.75)">Load current (A)</text>
<text x="39.55" y="274.6" font-size="17.5">10</text>
<text x="50.2" y="345.1" font-size="17.5">0</text>
<text x="34.45" y="412.2" font-size="17.5">-10</text>
<text x="64.4" y="456.25" font-size="17.5">0</text>
<text x="174.0" y="456.25" font-size="17.5">0.02</text>
<text x="296.15" y="456.25" font-size="17.5">0.04</text>
<text x="167.15" y="482.65" font-size="19">(c)</text>
<text x="11.65" y="406.75" font-size="17.5" transform="rotate(-90 11.65 406.75)">Compensated source</text>
<text x="35.2" y="406.85" font-size="17.5" transform="rotate(-90 35.2 406.85)">current (A) (IRP-<tspan font-style="italic">pq</tspan>)</text>
<text x="387.85" y="271.75" font-size="17.5">10</text>
<text x="397.9" y="345.95" font-size="17.5">0</text>
<text x="382.4" y="411.35" font-size="17.5">-10</text>
<text x="413.65" y="455.45" font-size="17.5">0</text>
<text x="485.2" y="455.5" font-size="17.5">0.02</text>
<text x="568.5" y="456.05" font-size="17.5">0.04</text>
<text x="647.65" y="454.7" font-size="17.5">0.06</text>
<text x="526.55" y="482.6" font-size="19.5">(d)</text>
<text x="354.55" y="415.85" font-size="17.5" transform="rotate(-90 354.55 415.85)">Compensated source</text>
<text x="375.75" y="415.1" font-size="16.7" transform="rotate(-90 375.75 415.1)">current (A) (Proposed)</text>
<text x="49.75" y="511.7" font-size="17.5">5</text>
<text x="50.25" y="590.2" font-size="17.5">0</text>
<text x="44.5" y="669.9" font-size="17.5">-5</text>
<text x="64.75" y="703.35" font-size="17.5">0</text>
<text x="136.0" y="702.85" font-size="17.5">0.02</text>
<text x="216.1" y="702.85" font-size="17.5">0.04</text>
<text x="299.05" y="702.85" font-size="17.5">0.06</text>
<text x="146.85" y="728.75" font-size="17.5">Time (sec)</text>
<text x="167.2" y="758.05" font-size="19">(e)</text>
<text x="37.7" y="674.7" font-size="17.5" transform="rotate(-90 37.7 674.7)">Compensator current (A)</text>
<text x="383.5" y="508.6" font-size="17.5">20</text>
<text x="394.5" y="546.7" font-size="17.5">0</text>
<text x="376.9" y="585.4" font-size="17.5">-20</text>
<text x="383.5" y="602.3" font-size="17.5">20</text>
<text x="394.5" y="639.0" font-size="17.5">0</text>
<text x="376.9" y="675.1" font-size="17.5">-20</text>
<text x="411.4" y="692.95" font-size="17.5">0</text>
<text x="483.2" y="691.85" font-size="17.5">0.02</text>
<text x="567.15" y="691.85" font-size="17.5">0.04</text>
<text x="654.6" y="691.85" font-size="17.5">0.06</text>
<text x="510.9" y="720.05" font-size="17.5">Time (sec)</text>
<text x="534.4" y="752.95" font-size="19.5">(f)</text>
<text x="376.0" y="677.3" font-size="17.75" transform="rotate(-90 376.0 677.3)">Voltage (V) &amp; Current (A)</text>
<text x="86.7" y="25.35" font-size="16" font-style="italic">V</text>
<text x="97.1" y="28.15" font-size="12.5" font-style="italic">sa</text>
<text x="136.6" y="23.65" font-size="16" font-style="italic">V</text>
<text x="146.6" y="27.0" font-size="12.5" font-style="italic">sb</text>
<text x="173.4" y="38.1" font-size="16" font-style="italic">V</text>
<text x="182.75" y="39.95" font-size="12.5" font-style="italic">sc</text>
<text x="436.4" y="44.6" font-size="16" font-style="italic">i</text>
<text x="440.2" y="46.7" font-size="12.5" font-style="italic">sa</text>
<text x="498.45" y="28.3" font-size="16" font-style="italic">i</text>
<text x="502.5" y="30.0" font-size="12.5" font-style="italic">sb</text>
<text x="546.35" y="28.3" font-size="16" font-style="italic">i</text>
<text x="550.7" y="29.55" font-size="12.5" font-style="italic">sc</text>
<text x="467.3" y="113.65" font-size="16" font-style="italic">i</text>
<text x="471.05" y="116.6" font-size="12.5" font-style="italic">sn</text>
<text x="82.75" y="293.7" font-size="16" font-style="italic">i</text>
<text x="87.05" y="296.45" font-size="12.5" font-style="italic">sa</text>
<text x="127.55" y="288.5" font-size="16" font-style="italic">i</text>
<text x="131.65" y="290.5" font-size="12.5" font-style="italic">sb</text>
<text x="172.8" y="277.95" font-size="16" font-style="italic">i</text>
<text x="177.3" y="279.4" font-size="12.5">sc</text>
<text x="148.3" y="351.85" font-size="16" font-style="italic">i</text>
<text x="152.45" y="354.65" font-size="12.5" font-style="italic">sn</text>
<text x="222.2" y="274.95" font-size="16" font-style="italic">V</text>
<text x="232.85" y="278.15" font-size="12.5" font-style="italic">sa</text>
<text x="243.05" y="275.45" font-size="17.5">/30</text>
<text x="440.25" y="272.85" font-size="16" font-style="italic">V</text>
<text x="449.45" y="275.3" font-size="12.5" font-style="italic">sa</text>
<text x="459.6" y="273.5" font-size="17.5">/30</text>
<text x="453.9" y="305.75" font-size="16" font-style="italic">i</text>
<text x="458.0" y="308.15" font-size="12.5" font-style="italic">sb</text>
<text x="478.85" y="301.5" font-size="16" font-style="italic">i</text>
<text x="482.75" y="302.35" font-size="12.5" font-style="italic">sc</text>
<text x="466.2" y="381.95" font-size="16" font-style="italic">i</text>
<text x="470.35" y="381.8" font-size="12.5" font-style="italic">sa</text>
<text x="609.4" y="404.3" font-size="16" font-style="italic">i</text>
<text x="612.55" y="406.05" font-size="12.5" font-style="italic">sn</text>
<text x="117.65" y="519.5" font-size="16" font-style="italic">i</text>
<text x="121.0" y="520.7" font-size="12.5" font-style="italic">fb</text>
<text x="158.55" y="529.1" font-size="16" font-style="italic">i</text>
<text x="162.15" y="530.0" font-size="12.5" font-style="italic">f<tspan font-style="normal">c</tspan></text>
<text x="102.75" y="557.95" font-size="16" font-style="italic">i</text>
<text x="106.15" y="558.9" font-size="12.5" font-style="italic">fa</text>
<text x="453.65" y="516.7" font-size="16" font-style="italic">V</text>
<text x="464.1" y="519.0" font-size="11.6" font-style="italic">sb fund</text>
<text x="497.7" y="517.15" font-size="17.5">/30</text>
<text x="494.8" y="541.65" font-size="16" font-style="italic">i</text>
<text x="499.25" y="543.3" font-size="12.5" font-style="italic">sb</text>
<text x="496.95" y="609.35" font-size="16" font-style="italic">V</text>
<text x="508.1" y="612.3" font-size="11.6" font-style="italic">sc fund</text>
<text x="540.75" y="609.5" font-size="17.5">/30</text>
<text x="526.75" y="637.1" font-size="16" font-style="italic">i</text>
<text x="531.0" y="638.6" font-size="12.5" font-style="italic">sc</text>
</g>
</svg></body></html>
